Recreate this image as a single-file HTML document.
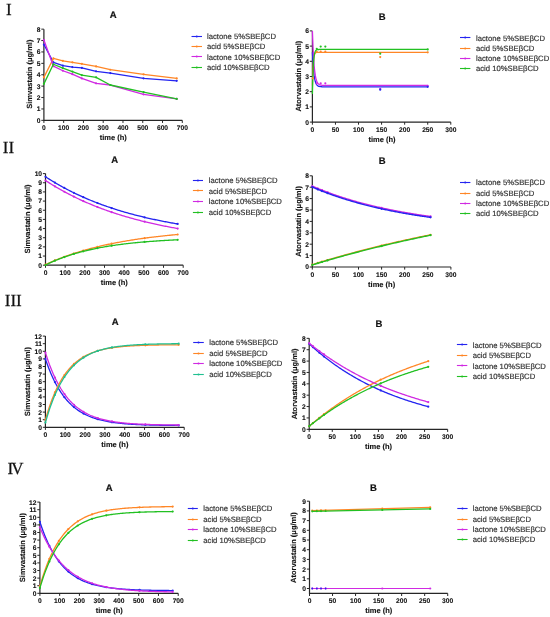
<!DOCTYPE html>
<html><head><meta charset="utf-8"><style>
html,body{margin:0;padding:0;background:#fff;}
body{width:550px;height:617px;overflow:hidden;}
svg{display:block;filter:blur(0.3px);}
text{font-family:"Liberation Sans",sans-serif;text-rendering:geometricPrecision;}
.tk{font-size:6.7px;font-weight:bold;fill:#111;stroke:#111;stroke-width:0.1px;}
.ax{font-size:7.5px;font-weight:bold;fill:#111;stroke:#111;stroke-width:0.12px;}
.ti{font-size:9.5px;font-weight:bold;fill:#111;stroke:#111;stroke-width:0.2px;}
.lg{font-size:7.7px;fill:#333;stroke:#333;stroke-width:0.18px;}
.rm{font-family:"Liberation Serif",serif;font-size:17px;fill:#111;stroke:#111;stroke-width:0.25px;}
</style></head><body>
<svg width="550" height="617" viewBox="0 0 550 617">
<path d="M43.9 29.15V120.35H182.29" fill="none" stroke="#262626" stroke-width="1.2"/>
<path d="M41.3 120.35H43.9M41.3 108.95H43.9M41.3 97.55H43.9M41.3 86.15H43.9M41.3 74.75H43.9M41.3 63.35H43.9M41.3 51.95H43.9M41.3 40.55H43.9M41.3 29.15H43.9M43.9 120.35V122.95M63.67 120.35V122.95M83.44 120.35V122.95M103.21 120.35V122.95M122.98 120.35V122.95M142.75 120.35V122.95M162.52 120.35V122.95M182.29 120.35V122.95" fill="none" stroke="#262626" stroke-width="1"/>
<text x="40.5" y="122.75" text-anchor="end" class="tk">0</text>
<text x="40.5" y="111.35" text-anchor="end" class="tk">1</text>
<text x="40.5" y="99.95" text-anchor="end" class="tk">2</text>
<text x="40.5" y="88.55" text-anchor="end" class="tk">3</text>
<text x="40.5" y="77.15" text-anchor="end" class="tk">4</text>
<text x="40.5" y="65.75" text-anchor="end" class="tk">5</text>
<text x="40.5" y="54.35" text-anchor="end" class="tk">6</text>
<text x="40.5" y="42.95" text-anchor="end" class="tk">7</text>
<text x="40.5" y="31.55" text-anchor="end" class="tk">8</text>
<text x="43.9" y="130.35" text-anchor="middle" class="tk">0</text>
<text x="63.67" y="130.35" text-anchor="middle" class="tk">100</text>
<text x="83.44" y="130.35" text-anchor="middle" class="tk">200</text>
<text x="103.21" y="130.35" text-anchor="middle" class="tk">300</text>
<text x="122.98" y="130.35" text-anchor="middle" class="tk">400</text>
<text x="142.75" y="130.35" text-anchor="middle" class="tk">500</text>
<text x="162.52" y="130.35" text-anchor="middle" class="tk">600</text>
<text x="182.29" y="130.35" text-anchor="middle" class="tk">700</text>
<text x="113.2" y="18" text-anchor="middle" class="ti">A</text>
<text x="113.3" y="140.1" text-anchor="middle" class="ax">time (h)</text>
<text transform="translate(31.8 74.2) rotate(-90)" text-anchor="middle" class="ax">Simvastatin (&#956;g/ml)</text>
<polyline points="43.9,44.54 53.39,62.32 62.88,65.63 72.37,67.11 81.86,67.91 96.09,71.33 110.33,73.04 143.54,78.28 176.75,80.79" fill="none" stroke="#2424f0" stroke-width="1.3" stroke-linejoin="round"/>
<circle cx="43.9" cy="44.54" r="1.1" fill="#2424f0"/><circle cx="53.39" cy="62.32" r="1.1" fill="#2424f0"/><circle cx="62.88" cy="65.63" r="1.1" fill="#2424f0"/><circle cx="72.37" cy="67.11" r="1.1" fill="#2424f0"/><circle cx="81.86" cy="67.91" r="1.1" fill="#2424f0"/><circle cx="96.09" cy="71.33" r="1.1" fill="#2424f0"/><circle cx="110.33" cy="73.04" r="1.1" fill="#2424f0"/><circle cx="143.54" cy="78.28" r="1.1" fill="#2424f0"/><circle cx="176.75" cy="80.79" r="1.1" fill="#2424f0"/>
<polyline points="43.9,77.37 53.39,58.45 62.88,60.84 72.37,62.32 81.86,63.81 96.09,66.43 110.33,69.73 143.54,74.29 176.75,78.4" fill="none" stroke="#ff8626" stroke-width="1.3" stroke-linejoin="round"/>
<circle cx="43.9" cy="77.37" r="1.1" fill="#ff8626"/><circle cx="53.39" cy="58.45" r="1.1" fill="#ff8626"/><circle cx="62.88" cy="60.84" r="1.1" fill="#ff8626"/><circle cx="72.37" cy="62.32" r="1.1" fill="#ff8626"/><circle cx="81.86" cy="63.81" r="1.1" fill="#ff8626"/><circle cx="96.09" cy="66.43" r="1.1" fill="#ff8626"/><circle cx="110.33" cy="69.73" r="1.1" fill="#ff8626"/><circle cx="143.54" cy="74.29" r="1.1" fill="#ff8626"/><circle cx="176.75" cy="78.4" r="1.1" fill="#ff8626"/>
<polyline points="43.9,39.98 53.39,66.2 62.88,70.76 72.37,74.18 81.86,78.4 96.09,83.3 110.33,85.01 143.54,94.36 176.75,98.92" fill="none" stroke="#d02ae2" stroke-width="1.3" stroke-linejoin="round"/>
<circle cx="43.9" cy="39.98" r="1.1" fill="#d02ae2"/><circle cx="53.39" cy="66.2" r="1.1" fill="#d02ae2"/><circle cx="62.88" cy="70.76" r="1.1" fill="#d02ae2"/><circle cx="72.37" cy="74.18" r="1.1" fill="#d02ae2"/><circle cx="81.86" cy="78.4" r="1.1" fill="#d02ae2"/><circle cx="96.09" cy="83.3" r="1.1" fill="#d02ae2"/><circle cx="110.33" cy="85.01" r="1.1" fill="#d02ae2"/><circle cx="143.54" cy="94.36" r="1.1" fill="#d02ae2"/><circle cx="176.75" cy="98.92" r="1.1" fill="#d02ae2"/>
<polyline points="43.9,83.87 53.39,64.26 62.88,68.14 72.37,71.56 81.86,75.21 96.09,77.37 110.33,85.01 143.54,92.08 176.75,98.92" fill="none" stroke="#22c022" stroke-width="1.3" stroke-linejoin="round"/>
<circle cx="43.9" cy="83.87" r="1.1" fill="#22c022"/><circle cx="53.39" cy="64.26" r="1.1" fill="#22c022"/><circle cx="62.88" cy="68.14" r="1.1" fill="#22c022"/><circle cx="72.37" cy="71.56" r="1.1" fill="#22c022"/><circle cx="81.86" cy="75.21" r="1.1" fill="#22c022"/><circle cx="96.09" cy="77.37" r="1.1" fill="#22c022"/><circle cx="110.33" cy="85.01" r="1.1" fill="#22c022"/><circle cx="143.54" cy="92.08" r="1.1" fill="#22c022"/><circle cx="176.75" cy="98.92" r="1.1" fill="#22c022"/>
<path d="M191.5 36.5H202" stroke="#2424f0" stroke-width="1.1"/>
<circle cx="196.75" cy="36.5" r="1" fill="#2424f0"/>
<text x="207" y="38.7" class="lg">lactone 5%SBE&#946;CD</text>
<path d="M191.5 46.5H202" stroke="#ff8626" stroke-width="1.1"/>
<circle cx="196.75" cy="46.5" r="1" fill="#ff8626"/>
<text x="207" y="49" class="lg">acid 5%SBE&#946;CD</text>
<path d="M191.5 56.5H202" stroke="#d02ae2" stroke-width="1.1"/>
<circle cx="196.75" cy="56.5" r="1" fill="#d02ae2"/>
<text x="207" y="59.6" class="lg">lactone 10%SBE&#946;CD</text>
<path d="M191.5 67.5H202" stroke="#22c022" stroke-width="1.1"/>
<circle cx="196.75" cy="67.5" r="1" fill="#22c022"/>
<text x="207" y="70.2" class="lg">acid 10%SBE&#946;CD</text>
<path d="M312.4 30.9V122.1H450.79" fill="none" stroke="#262626" stroke-width="1.2"/>
<path d="M309.8 122.1H312.4M309.8 106.9H312.4M309.8 91.7H312.4M309.8 76.5H312.4M309.8 61.3H312.4M309.8 46.1H312.4M309.8 30.9H312.4M312.4 122.1V124.7M335.46 122.1V124.7M358.53 122.1V124.7M381.59 122.1V124.7M404.66 122.1V124.7M427.72 122.1V124.7M450.79 122.1V124.7" fill="none" stroke="#262626" stroke-width="1"/>
<text x="309" y="124.5" text-anchor="end" class="tk">0</text>
<text x="309" y="109.3" text-anchor="end" class="tk">1</text>
<text x="309" y="94.1" text-anchor="end" class="tk">2</text>
<text x="309" y="78.9" text-anchor="end" class="tk">3</text>
<text x="309" y="63.7" text-anchor="end" class="tk">4</text>
<text x="309" y="48.5" text-anchor="end" class="tk">5</text>
<text x="309" y="33.3" text-anchor="end" class="tk">6</text>
<text x="312.4" y="132.1" text-anchor="middle" class="tk">0</text>
<text x="335.46" y="132.1" text-anchor="middle" class="tk">50</text>
<text x="358.53" y="132.1" text-anchor="middle" class="tk">100</text>
<text x="381.59" y="132.1" text-anchor="middle" class="tk">150</text>
<text x="404.66" y="132.1" text-anchor="middle" class="tk">200</text>
<text x="427.72" y="132.1" text-anchor="middle" class="tk">250</text>
<text x="450.79" y="132.1" text-anchor="middle" class="tk">300</text>
<text x="382.1" y="19.7" text-anchor="middle" class="ti">B</text>
<text x="382" y="142" text-anchor="middle" class="ax">time (h)</text>
<text transform="translate(301 76.2) rotate(-90)" text-anchor="middle" class="ax">Atorvastatin (&#956;g/ml)</text>
<polyline points="312.4,52.18 312.98,63.06 313.56,70.53 314.14,75.65 314.72,79.16 315.3,81.57 315.88,83.22 316.46,84.36 317.04,85.14 317.62,85.67 318.2,86.04 318.77,86.29 319.35,86.46 319.93,86.58 320.51,86.66 321.09,86.71 321.67,86.75 322.25,86.78 322.83,86.8 323.41,86.81 323.99,86.82 324.57,86.82 325.15,86.83 325.73,86.83 326.31,86.83 326.89,86.83 327.47,86.83 328.05,86.83 328.63,86.84 329.21,86.84 329.79,86.84 330.37,86.84 330.94,86.84 331.52,86.84 332.1,86.84 332.68,86.84 333.26,86.84 333.84,86.84 334.42,86.84 335,86.84 335.58,86.84 336.16,86.84 336.74,86.84 337.32,86.84 337.9,86.84 338.48,86.84 339.06,86.84 339.64,86.84 340.22,86.84 340.8,86.84 341.38,86.84 341.96,86.84 342.54,86.84 343.11,86.84 343.69,86.84 344.27,86.84 344.85,86.84 345.43,86.84 346.01,86.84 346.59,86.84 347.17,86.84 347.75,86.84 348.33,86.84 348.91,86.84 349.49,86.84 350.07,86.84 350.65,86.84 351.23,86.84 351.81,86.84 352.39,86.84 352.97,86.84 353.55,86.84 354.13,86.84 354.71,86.84 355.28,86.84 355.86,86.84 356.44,86.84 357.02,86.84 357.6,86.84 358.18,86.84 358.76,86.84 359.34,86.84 359.92,86.84 360.5,86.84 361.08,86.84 361.66,86.84 362.24,86.84 362.82,86.84 363.4,86.84 363.98,86.84 364.56,86.84 365.14,86.84 365.72,86.84 366.3,86.84 366.88,86.84 367.45,86.84 368.03,86.84 368.61,86.84 369.19,86.84 369.77,86.84 370.35,86.84 370.93,86.84 371.51,86.84 372.09,86.84 372.67,86.84 373.25,86.84 373.83,86.84 374.41,86.84 374.99,86.84 375.57,86.84 376.15,86.84 376.73,86.84 377.31,86.84 377.89,86.84 378.47,86.84 379.05,86.84 379.62,86.84 380.2,86.84 380.78,86.84 381.36,86.84 381.94,86.84 382.52,86.84 383.1,86.84 383.68,86.84 384.26,86.84 384.84,86.84 385.42,86.84 386,86.84 386.58,86.84 387.16,86.84 387.74,86.84 388.32,86.84 388.9,86.84 389.48,86.84 390.06,86.84 390.64,86.84 391.22,86.84 391.79,86.84 392.37,86.84 392.95,86.84 393.53,86.84 394.11,86.84 394.69,86.84 395.27,86.84 395.85,86.84 396.43,86.84 397.01,86.84 397.59,86.84 398.17,86.84 398.75,86.84 399.33,86.84 399.91,86.84 400.49,86.84 401.07,86.84 401.65,86.84 402.23,86.84 402.81,86.84 403.39,86.84 403.96,86.84 404.54,86.84 405.12,86.84 405.7,86.84 406.28,86.84 406.86,86.84 407.44,86.84 408.02,86.84 408.6,86.84 409.18,86.84 409.76,86.84 410.34,86.84 410.92,86.84 411.5,86.84 412.08,86.84 412.66,86.84 413.24,86.84 413.82,86.84 414.4,86.84 414.98,86.84 415.56,86.84 416.13,86.84 416.71,86.84 417.29,86.84 417.87,86.84 418.45,86.84 419.03,86.84 419.61,86.84 420.19,86.84 420.77,86.84 421.35,86.84 421.93,86.84 422.51,86.84 423.09,86.84 423.67,86.84 424.25,86.84 424.83,86.84 425.41,86.84 425.99,86.84 426.57,86.84 427.15,86.84 427.72,86.84" fill="none" stroke="#2424f0" stroke-width="1.3" stroke-linejoin="round"/>
<polyline points="312.4,85.62 312.79,72.49 313.17,64.54 313.56,59.72 313.94,56.81 314.33,55.04 314.71,53.97 315.1,53.33 315.49,52.93 315.87,52.7 316.26,52.55 316.64,52.47 317.03,52.41 317.41,52.38 317.8,52.36 318.19,52.35 318.57,52.34 318.96,52.34 319.34,52.34 319.73,52.33 320.11,52.33 320.5,52.33 320.89,52.33 321.27,52.33 321.66,52.33 322.04,52.33 322.43,52.33 322.81,52.33 323.2,52.33 323.59,52.33 323.97,52.33 324.36,52.33 324.74,52.33 325.13,52.33 325.51,52.33 325.9,52.33 326.29,52.33 326.67,52.33 327.06,52.33 327.44,52.33 327.83,52.33 328.21,52.33 328.6,52.33 328.99,52.33 329.37,52.33 329.76,52.33 330.14,52.33 330.53,52.33 330.91,52.33 331.3,52.33 331.69,52.33 332.07,52.33 332.46,52.33 332.84,52.33 333.23,52.33 333.61,52.33 334,52.33 334.39,52.33 334.77,52.33 335.16,52.33 335.54,52.33 335.93,52.33 336.31,52.33 336.7,52.33 337.08,52.33 337.47,52.33 337.86,52.33 338.24,52.33 338.63,52.33 339.01,52.33 339.4,52.33 339.78,52.33 340.17,52.33 340.56,52.33 340.94,52.33 341.33,52.33 341.71,52.33 342.1,52.33 342.48,52.33 342.87,52.33 343.26,52.33 343.64,52.33 344.03,52.33 344.41,52.33 344.8,52.33 345.18,52.33 345.57,52.33 345.96,52.33 346.34,52.33 346.73,52.33 347.11,52.33 347.5,52.33 347.88,52.33 348.27,52.33 348.66,52.33 349.04,52.33 349.43,52.33 349.81,52.33 350.2,52.33 350.58,52.33 350.97,52.33 351.36,52.33 351.74,52.33 352.13,52.33 352.51,52.33 352.9,52.33 353.28,52.33 353.67,52.33 354.06,52.33 354.44,52.33 354.83,52.33 355.21,52.33 355.6,52.33 355.98,52.33 356.37,52.33 356.76,52.33 357.14,52.33 357.53,52.33 357.91,52.33 358.3,52.33 358.68,52.33 359.07,52.33 359.46,52.33 359.84,52.33 360.23,52.33 360.61,52.33 361,52.33 361.38,52.33 361.77,52.33 362.16,52.33 362.54,52.33 362.93,52.33 363.31,52.33 363.7,52.33 364.08,52.33 364.47,52.33 364.86,52.33 365.24,52.33 365.63,52.33 366.01,52.33 366.4,52.33 366.78,52.33 367.17,52.33 367.56,52.33 367.94,52.33 368.33,52.33 368.71,52.33 369.1,52.33 369.48,52.33 369.87,52.33 370.26,52.33 370.64,52.33 371.03,52.33 371.41,52.33 371.8,52.33 372.18,52.33 372.57,52.33 372.96,52.33 373.34,52.33 373.73,52.33 374.11,52.33 374.5,52.33 374.88,52.33 375.27,52.33 375.66,52.33 376.04,52.33 376.43,52.33 376.81,52.33 377.2,52.33 377.58,52.33 377.97,52.33 378.36,52.33 378.74,52.33 379.13,52.33 379.51,52.33 379.9,52.33 380.28,52.33 380.67,52.33 381.06,52.33 381.44,52.33 381.83,52.33 382.21,52.33 382.6,52.33 382.98,52.33 383.37,52.33 383.75,52.33 384.14,52.33 384.53,52.33 384.91,52.33 385.3,52.33 385.68,52.33 386.07,52.33 386.45,52.33 386.84,52.33 387.23,52.33 387.61,52.33 388,52.33 388.38,52.33 388.77,52.33 389.15,52.33 389.54,52.33 389.93,52.33 390.31,52.33 390.7,52.33 391.08,52.33 391.47,52.33 391.85,52.33 392.24,52.33 392.63,52.33 393.01,52.33 393.4,52.33 393.78,52.33 394.17,52.33 394.55,52.33 394.94,52.33 395.33,52.33 395.71,52.33 396.1,52.33 396.48,52.33 396.87,52.33 397.25,52.33 397.64,52.33 398.03,52.33 398.41,52.33 398.8,52.33 399.18,52.33 399.57,52.33 399.95,52.33 400.34,52.33 400.73,52.33 401.11,52.33 401.5,52.33 401.88,52.33 402.27,52.33 402.65,52.33 403.04,52.33 403.43,52.33 403.81,52.33 404.2,52.33 404.58,52.33 404.97,52.33 405.35,52.33 405.74,52.33 406.13,52.33 406.51,52.33 406.9,52.33 407.28,52.33 407.67,52.33 408.05,52.33 408.44,52.33 408.83,52.33 409.21,52.33 409.6,52.33 409.98,52.33 410.37,52.33 410.75,52.33 411.14,52.33 411.53,52.33 411.91,52.33 412.3,52.33 412.68,52.33 413.07,52.33 413.45,52.33 413.84,52.33 414.23,52.33 414.61,52.33 415,52.33 415.38,52.33 415.77,52.33 416.15,52.33 416.54,52.33 416.93,52.33 417.31,52.33 417.7,52.33 418.08,52.33 418.47,52.33 418.85,52.33 419.24,52.33 419.63,52.33 420.01,52.33 420.4,52.33 420.78,52.33 421.17,52.33 421.55,52.33 421.94,52.33 422.33,52.33 422.71,52.33 423.1,52.33 423.48,52.33 423.87,52.33 424.25,52.33 424.64,52.33 425.03,52.33 425.41,52.33 425.8,52.33 426.18,52.33 426.57,52.33 426.95,52.33 427.34,52.33 427.72,52.33" fill="none" stroke="#ff8626" stroke-width="1.3" stroke-linejoin="round"/>
<polyline points="312.4,30.9 312.98,46.6 313.56,57.78 314.14,65.74 314.72,71.42 315.3,75.46 315.88,78.34 316.46,80.39 317.04,81.85 317.62,82.89 318.2,83.63 318.77,84.16 319.35,84.54 319.93,84.8 320.51,85 321.09,85.13 321.67,85.23 322.25,85.3 322.83,85.35 323.41,85.38 323.99,85.41 324.57,85.42 325.15,85.44 325.73,85.45 326.31,85.45 326.89,85.46 327.47,85.46 328.05,85.46 328.63,85.46 329.21,85.47 329.79,85.47 330.37,85.47 330.94,85.47 331.52,85.47 332.1,85.47 332.68,85.47 333.26,85.47 333.84,85.47 334.42,85.47 335,85.47 335.58,85.47 336.16,85.47 336.74,85.47 337.32,85.47 337.9,85.47 338.48,85.47 339.06,85.47 339.64,85.47 340.22,85.47 340.8,85.47 341.38,85.47 341.96,85.47 342.54,85.47 343.11,85.47 343.69,85.47 344.27,85.47 344.85,85.47 345.43,85.47 346.01,85.47 346.59,85.47 347.17,85.47 347.75,85.47 348.33,85.47 348.91,85.47 349.49,85.47 350.07,85.47 350.65,85.47 351.23,85.47 351.81,85.47 352.39,85.47 352.97,85.47 353.55,85.47 354.13,85.47 354.71,85.47 355.28,85.47 355.86,85.47 356.44,85.47 357.02,85.47 357.6,85.47 358.18,85.47 358.76,85.47 359.34,85.47 359.92,85.47 360.5,85.47 361.08,85.47 361.66,85.47 362.24,85.47 362.82,85.47 363.4,85.47 363.98,85.47 364.56,85.47 365.14,85.47 365.72,85.47 366.3,85.47 366.88,85.47 367.45,85.47 368.03,85.47 368.61,85.47 369.19,85.47 369.77,85.47 370.35,85.47 370.93,85.47 371.51,85.47 372.09,85.47 372.67,85.47 373.25,85.47 373.83,85.47 374.41,85.47 374.99,85.47 375.57,85.47 376.15,85.47 376.73,85.47 377.31,85.47 377.89,85.47 378.47,85.47 379.05,85.47 379.62,85.47 380.2,85.47 380.78,85.47 381.36,85.47 381.94,85.47 382.52,85.47 383.1,85.47 383.68,85.47 384.26,85.47 384.84,85.47 385.42,85.47 386,85.47 386.58,85.47 387.16,85.47 387.74,85.47 388.32,85.47 388.9,85.47 389.48,85.47 390.06,85.47 390.64,85.47 391.22,85.47 391.79,85.47 392.37,85.47 392.95,85.47 393.53,85.47 394.11,85.47 394.69,85.47 395.27,85.47 395.85,85.47 396.43,85.47 397.01,85.47 397.59,85.47 398.17,85.47 398.75,85.47 399.33,85.47 399.91,85.47 400.49,85.47 401.07,85.47 401.65,85.47 402.23,85.47 402.81,85.47 403.39,85.47 403.96,85.47 404.54,85.47 405.12,85.47 405.7,85.47 406.28,85.47 406.86,85.47 407.44,85.47 408.02,85.47 408.6,85.47 409.18,85.47 409.76,85.47 410.34,85.47 410.92,85.47 411.5,85.47 412.08,85.47 412.66,85.47 413.24,85.47 413.82,85.47 414.4,85.47 414.98,85.47 415.56,85.47 416.13,85.47 416.71,85.47 417.29,85.47 417.87,85.47 418.45,85.47 419.03,85.47 419.61,85.47 420.19,85.47 420.77,85.47 421.35,85.47 421.93,85.47 422.51,85.47 423.09,85.47 423.67,85.47 424.25,85.47 424.83,85.47 425.41,85.47 425.99,85.47 426.57,85.47 427.15,85.47 427.72,85.47" fill="none" stroke="#d02ae2" stroke-width="1.3" stroke-linejoin="round"/>
<polyline points="312.4,93.98 312.79,78.76 313.17,68.75 313.56,62.15 313.94,57.81 314.33,54.95 314.71,53.07 315.1,51.83 315.49,51.02 315.87,50.48 316.26,50.12 316.64,49.89 317.03,49.74 317.41,49.64 317.8,49.57 318.19,49.53 318.57,49.5 318.96,49.48 319.34,49.47 319.73,49.46 320.11,49.45 320.5,49.45 320.89,49.45 321.27,49.45 321.66,49.45 322.04,49.45 322.43,49.44 322.81,49.44 323.2,49.44 323.59,49.44 323.97,49.44 324.36,49.44 324.74,49.44 325.13,49.44 325.51,49.44 325.9,49.44 326.29,49.44 326.67,49.44 327.06,49.44 327.44,49.44 327.83,49.44 328.21,49.44 328.6,49.44 328.99,49.44 329.37,49.44 329.76,49.44 330.14,49.44 330.53,49.44 330.91,49.44 331.3,49.44 331.69,49.44 332.07,49.44 332.46,49.44 332.84,49.44 333.23,49.44 333.61,49.44 334,49.44 334.39,49.44 334.77,49.44 335.16,49.44 335.54,49.44 335.93,49.44 336.31,49.44 336.7,49.44 337.08,49.44 337.47,49.44 337.86,49.44 338.24,49.44 338.63,49.44 339.01,49.44 339.4,49.44 339.78,49.44 340.17,49.44 340.56,49.44 340.94,49.44 341.33,49.44 341.71,49.44 342.1,49.44 342.48,49.44 342.87,49.44 343.26,49.44 343.64,49.44 344.03,49.44 344.41,49.44 344.8,49.44 345.18,49.44 345.57,49.44 345.96,49.44 346.34,49.44 346.73,49.44 347.11,49.44 347.5,49.44 347.88,49.44 348.27,49.44 348.66,49.44 349.04,49.44 349.43,49.44 349.81,49.44 350.2,49.44 350.58,49.44 350.97,49.44 351.36,49.44 351.74,49.44 352.13,49.44 352.51,49.44 352.9,49.44 353.28,49.44 353.67,49.44 354.06,49.44 354.44,49.44 354.83,49.44 355.21,49.44 355.6,49.44 355.98,49.44 356.37,49.44 356.76,49.44 357.14,49.44 357.53,49.44 357.91,49.44 358.3,49.44 358.68,49.44 359.07,49.44 359.46,49.44 359.84,49.44 360.23,49.44 360.61,49.44 361,49.44 361.38,49.44 361.77,49.44 362.16,49.44 362.54,49.44 362.93,49.44 363.31,49.44 363.7,49.44 364.08,49.44 364.47,49.44 364.86,49.44 365.24,49.44 365.63,49.44 366.01,49.44 366.4,49.44 366.78,49.44 367.17,49.44 367.56,49.44 367.94,49.44 368.33,49.44 368.71,49.44 369.1,49.44 369.48,49.44 369.87,49.44 370.26,49.44 370.64,49.44 371.03,49.44 371.41,49.44 371.8,49.44 372.18,49.44 372.57,49.44 372.96,49.44 373.34,49.44 373.73,49.44 374.11,49.44 374.5,49.44 374.88,49.44 375.27,49.44 375.66,49.44 376.04,49.44 376.43,49.44 376.81,49.44 377.2,49.44 377.58,49.44 377.97,49.44 378.36,49.44 378.74,49.44 379.13,49.44 379.51,49.44 379.9,49.44 380.28,49.44 380.67,49.44 381.06,49.44 381.44,49.44 381.83,49.44 382.21,49.44 382.6,49.44 382.98,49.44 383.37,49.44 383.75,49.44 384.14,49.44 384.53,49.44 384.91,49.44 385.3,49.44 385.68,49.44 386.07,49.44 386.45,49.44 386.84,49.44 387.23,49.44 387.61,49.44 388,49.44 388.38,49.44 388.77,49.44 389.15,49.44 389.54,49.44 389.93,49.44 390.31,49.44 390.7,49.44 391.08,49.44 391.47,49.44 391.85,49.44 392.24,49.44 392.63,49.44 393.01,49.44 393.4,49.44 393.78,49.44 394.17,49.44 394.55,49.44 394.94,49.44 395.33,49.44 395.71,49.44 396.1,49.44 396.48,49.44 396.87,49.44 397.25,49.44 397.64,49.44 398.03,49.44 398.41,49.44 398.8,49.44 399.18,49.44 399.57,49.44 399.95,49.44 400.34,49.44 400.73,49.44 401.11,49.44 401.5,49.44 401.88,49.44 402.27,49.44 402.65,49.44 403.04,49.44 403.43,49.44 403.81,49.44 404.2,49.44 404.58,49.44 404.97,49.44 405.35,49.44 405.74,49.44 406.13,49.44 406.51,49.44 406.9,49.44 407.28,49.44 407.67,49.44 408.05,49.44 408.44,49.44 408.83,49.44 409.21,49.44 409.6,49.44 409.98,49.44 410.37,49.44 410.75,49.44 411.14,49.44 411.53,49.44 411.91,49.44 412.3,49.44 412.68,49.44 413.07,49.44 413.45,49.44 413.84,49.44 414.23,49.44 414.61,49.44 415,49.44 415.38,49.44 415.77,49.44 416.15,49.44 416.54,49.44 416.93,49.44 417.31,49.44 417.7,49.44 418.08,49.44 418.47,49.44 418.85,49.44 419.24,49.44 419.63,49.44 420.01,49.44 420.4,49.44 420.78,49.44 421.17,49.44 421.55,49.44 421.94,49.44 422.33,49.44 422.71,49.44 423.1,49.44 423.48,49.44 423.87,49.44 424.25,49.44 424.64,49.44 425.03,49.44 425.41,49.44 425.8,49.44 426.18,49.44 426.57,49.44 426.95,49.44 427.34,49.44 427.72,49.44" fill="none" stroke="#22c022" stroke-width="1.3" stroke-linejoin="round"/>
<circle cx="312.86" cy="78.32" r="1.1" fill="#ff8626"/><circle cx="316.78" cy="51.88" r="1.1" fill="#ff8626"/><circle cx="320.7" cy="51.72" r="1.1" fill="#ff8626"/><circle cx="325.32" cy="51.72" r="1.1" fill="#ff8626"/><circle cx="380.21" cy="57.04" r="1.1" fill="#ff8626"/><circle cx="427.72" cy="52.33" r="1.1" fill="#ff8626"/>
<circle cx="316.78" cy="48.84" r="1.1" fill="#22c022"/><circle cx="320.7" cy="46.56" r="1.1" fill="#22c022"/><circle cx="325.32" cy="46.56" r="1.1" fill="#22c022"/><circle cx="380.21" cy="53.7" r="1.1" fill="#22c022"/><circle cx="427.72" cy="49.44" r="1.1" fill="#22c022"/>
<circle cx="316.78" cy="83.34" r="1.1" fill="#d02ae2"/><circle cx="320.7" cy="83.34" r="1.1" fill="#d02ae2"/><circle cx="325.32" cy="83.34" r="1.1" fill="#d02ae2"/><circle cx="380.21" cy="88.96" r="1.1" fill="#d02ae2"/><circle cx="427.72" cy="85.77" r="1.1" fill="#d02ae2"/>
<circle cx="380.21" cy="89.72" r="1.1" fill="#2424f0"/><circle cx="427.72" cy="86.84" r="1.1" fill="#2424f0"/>
<path d="M460 37.5H470.4" stroke="#2424f0" stroke-width="1.1"/>
<circle cx="465.2" cy="37.5" r="1" fill="#2424f0"/>
<text x="476" y="40.5" class="lg">lactone 5%SBE&#946;CD</text>
<path d="M460 48.5H470.4" stroke="#ff8626" stroke-width="1.1"/>
<circle cx="465.2" cy="48.5" r="1" fill="#ff8626"/>
<text x="476" y="50.9" class="lg">acid 5%SBE&#946;CD</text>
<path d="M460 58.5H470.4" stroke="#d02ae2" stroke-width="1.1"/>
<circle cx="465.2" cy="58.5" r="1" fill="#d02ae2"/>
<text x="476" y="61.2" class="lg">lactone 10%SBE&#946;CD</text>
<path d="M460 68.5H470.4" stroke="#22c022" stroke-width="1.1"/>
<circle cx="465.2" cy="68.5" r="1" fill="#22c022"/>
<text x="476" y="71.4" class="lg">acid 10%SBE&#946;CD</text>
<path d="M45.5 173.6V265.2H183.19" fill="none" stroke="#262626" stroke-width="1.2"/>
<path d="M42.9 265.2H45.5M42.9 256.04H45.5M42.9 246.88H45.5M42.9 237.72H45.5M42.9 228.56H45.5M42.9 219.4H45.5M42.9 210.24H45.5M42.9 201.08H45.5M42.9 191.92H45.5M42.9 182.76H45.5M42.9 173.6H45.5M45.5 265.2V267.8M65.17 265.2V267.8M84.84 265.2V267.8M104.51 265.2V267.8M124.18 265.2V267.8M143.85 265.2V267.8M163.52 265.2V267.8M183.19 265.2V267.8" fill="none" stroke="#262626" stroke-width="1"/>
<text x="42.1" y="267.6" text-anchor="end" class="tk">0</text>
<text x="42.1" y="258.44" text-anchor="end" class="tk">1</text>
<text x="42.1" y="249.28" text-anchor="end" class="tk">2</text>
<text x="42.1" y="240.12" text-anchor="end" class="tk">3</text>
<text x="42.1" y="230.96" text-anchor="end" class="tk">4</text>
<text x="42.1" y="221.8" text-anchor="end" class="tk">5</text>
<text x="42.1" y="212.64" text-anchor="end" class="tk">6</text>
<text x="42.1" y="203.48" text-anchor="end" class="tk">7</text>
<text x="42.1" y="194.32" text-anchor="end" class="tk">8</text>
<text x="42.1" y="185.16" text-anchor="end" class="tk">9</text>
<text x="42.1" y="176" text-anchor="end" class="tk">10</text>
<text x="45.5" y="275.2" text-anchor="middle" class="tk">0</text>
<text x="65.17" y="275.2" text-anchor="middle" class="tk">100</text>
<text x="84.84" y="275.2" text-anchor="middle" class="tk">200</text>
<text x="104.51" y="275.2" text-anchor="middle" class="tk">300</text>
<text x="124.18" y="275.2" text-anchor="middle" class="tk">400</text>
<text x="143.85" y="275.2" text-anchor="middle" class="tk">500</text>
<text x="163.52" y="275.2" text-anchor="middle" class="tk">600</text>
<text x="183.19" y="275.2" text-anchor="middle" class="tk">700</text>
<text x="114.8" y="162.7" text-anchor="middle" class="ti">A</text>
<text x="114.3" y="285.3" text-anchor="middle" class="ax">time (h)</text>
<text transform="translate(30.2 219) rotate(-90)" text-anchor="middle" class="ax">Simvastatin (&#956;g/ml)</text>
<polyline points="45.5,176.77 46.61,177.49 47.72,178.2 48.83,178.9 49.94,179.6 51.05,180.28 52.16,180.96 53.28,181.64 54.39,182.3 55.5,182.96 56.61,183.61 57.72,184.25 58.83,184.88 59.94,185.51 61.05,186.13 62.16,186.74 63.27,187.35 64.38,187.95 65.49,188.54 66.6,189.13 67.72,189.71 68.83,190.28 69.94,190.85 71.05,191.41 72.16,191.96 73.27,192.51 74.38,193.05 75.49,193.59 76.6,194.12 77.71,194.64 78.82,195.16 79.93,195.67 81.04,196.18 82.16,196.68 83.27,197.17 84.38,197.66 85.49,198.14 86.6,198.62 87.71,199.09 88.82,199.56 89.93,200.02 91.04,200.48 92.15,200.93 93.26,201.37 94.37,201.82 95.48,202.25 96.6,202.68 97.71,203.11 98.82,203.53 99.93,203.95 101.04,204.36 102.15,204.77 103.26,205.17 104.37,205.57 105.48,205.96 106.59,206.35 107.7,206.74 108.81,207.12 109.93,207.49 111.04,207.86 112.15,208.23 113.26,208.6 114.37,208.96 115.48,209.31 116.59,209.66 117.7,210.01 118.81,210.35 119.92,210.69 121.03,211.03 122.14,211.36 123.25,211.69 124.37,212.01 125.48,212.33 126.59,212.65 127.7,212.96 128.81,213.27 129.92,213.58 131.03,213.88 132.14,214.18 133.25,214.48 134.36,214.77 135.47,215.06 136.58,215.35 137.69,215.63 138.81,215.91 139.92,216.19 141.03,216.46 142.14,216.73 143.25,217 144.36,217.26 145.47,217.53 146.58,217.78 147.69,218.04 148.8,218.29 149.91,218.54 151.02,218.79 152.13,219.03 153.25,219.28 154.36,219.51 155.47,219.75 156.58,219.98 157.69,220.21 158.8,220.44 159.91,220.67 161.02,220.89 162.13,221.11 163.24,221.33 164.35,221.54 165.46,221.76 166.57,221.97 167.69,222.18 168.8,222.38 169.91,222.59 171.02,222.79 172.13,222.99 173.24,223.18 174.35,223.38 175.46,223.57 176.57,223.76 177.68,223.95" fill="none" stroke="#2424f0" stroke-width="1.3" stroke-linejoin="round"/>
<circle cx="45.5" cy="176.77" r="1.1" fill="#2424f0"/><circle cx="54.94" cy="182.63" r="1.1" fill="#2424f0"/><circle cx="64.38" cy="187.95" r="1.1" fill="#2424f0"/><circle cx="73.82" cy="192.78" r="1.1" fill="#2424f0"/><circle cx="83.27" cy="197.17" r="1.1" fill="#2424f0"/><circle cx="97.43" cy="203" r="1.1" fill="#2424f0"/><circle cx="111.59" cy="208.05" r="1.1" fill="#2424f0"/><circle cx="144.64" cy="217.33" r="1.1" fill="#2424f0"/><circle cx="177.68" cy="223.95" r="1.1" fill="#2424f0"/>
<polyline points="45.5,264.54 46.61,264.03 47.72,263.52 48.83,263.03 49.94,262.54 51.05,262.05 52.16,261.58 53.28,261.11 54.39,260.65 55.5,260.19 56.61,259.74 57.72,259.3 58.83,258.86 59.94,258.43 61.05,258 62.16,257.58 63.27,257.16 64.38,256.75 65.49,256.35 66.6,255.95 67.72,255.56 68.83,255.17 69.94,254.79 71.05,254.42 72.16,254.04 73.27,253.68 74.38,253.32 75.49,252.96 76.6,252.61 77.71,252.26 78.82,251.92 79.93,251.58 81.04,251.25 82.16,250.92 83.27,250.6 84.38,250.28 85.49,249.96 86.6,249.65 87.71,249.35 88.82,249.05 89.93,248.75 91.04,248.45 92.15,248.16 93.26,247.88 94.37,247.6 95.48,247.32 96.6,247.04 97.71,246.77 98.82,246.51 99.93,246.24 101.04,245.98 102.15,245.73 103.26,245.47 104.37,245.23 105.48,244.98 106.59,244.74 107.7,244.5 108.81,244.26 109.93,244.03 111.04,243.8 112.15,243.57 113.26,243.35 114.37,243.13 115.48,242.91 116.59,242.7 117.7,242.49 118.81,242.28 119.92,242.07 121.03,241.87 122.14,241.67 123.25,241.48 124.37,241.28 125.48,241.09 126.59,240.9 127.7,240.71 128.81,240.53 129.92,240.35 131.03,240.17 132.14,239.99 133.25,239.82 134.36,239.65 135.47,239.48 136.58,239.31 137.69,239.15 138.81,238.98 139.92,238.82 141.03,238.66 142.14,238.51 143.25,238.35 144.36,238.2 145.47,238.05 146.58,237.91 147.69,237.76 148.8,237.62 149.91,237.47 151.02,237.33 152.13,237.2 153.25,237.06 154.36,236.93 155.47,236.79 156.58,236.66 157.69,236.54 158.8,236.41 159.91,236.28 161.02,236.16 162.13,236.04 163.24,235.92 164.35,235.8 165.46,235.68 166.57,235.57 167.69,235.45 168.8,235.34 169.91,235.23 171.02,235.12 172.13,235.02 173.24,234.91 174.35,234.8 175.46,234.7 176.57,234.6 177.68,234.5" fill="none" stroke="#ff8626" stroke-width="1.3" stroke-linejoin="round"/>
<circle cx="45.5" cy="264.54" r="1.1" fill="#ff8626"/><circle cx="54.94" cy="260.42" r="1.1" fill="#ff8626"/><circle cx="64.38" cy="256.75" r="1.1" fill="#ff8626"/><circle cx="73.82" cy="253.5" r="1.1" fill="#ff8626"/><circle cx="83.27" cy="250.6" r="1.1" fill="#ff8626"/><circle cx="97.43" cy="246.84" r="1.1" fill="#ff8626"/><circle cx="111.59" cy="243.69" r="1.1" fill="#ff8626"/><circle cx="144.64" cy="238.17" r="1.1" fill="#ff8626"/><circle cx="177.68" cy="234.5" r="1.1" fill="#ff8626"/>
<polyline points="45.5,180.48 46.61,181.21 47.72,181.92 48.83,182.63 49.94,183.33 51.05,184.02 52.16,184.7 53.28,185.38 54.39,186.04 55.5,186.71 56.61,187.36 57.72,188.01 58.83,188.65 59.94,189.28 61.05,189.9 62.16,190.52 63.27,191.13 64.38,191.74 65.49,192.34 66.6,192.93 67.72,193.51 68.83,194.09 69.94,194.67 71.05,195.23 72.16,195.79 73.27,196.35 74.38,196.89 75.49,197.43 76.6,197.97 77.71,198.5 78.82,199.02 79.93,199.54 81.04,200.05 82.16,200.56 83.27,201.06 84.38,201.56 85.49,202.05 86.6,202.53 87.71,203.01 88.82,203.49 89.93,203.96 91.04,204.42 92.15,204.88 93.26,205.33 94.37,205.78 95.48,206.23 96.6,206.67 97.71,207.1 98.82,207.53 99.93,207.95 101.04,208.37 102.15,208.79 103.26,209.2 104.37,209.61 105.48,210.01 106.59,210.4 107.7,210.8 108.81,211.19 109.93,211.57 111.04,211.95 112.15,212.33 113.26,212.7 114.37,213.07 115.48,213.43 116.59,213.79 117.7,214.15 118.81,214.5 119.92,214.85 121.03,215.19 122.14,215.53 123.25,215.87 124.37,216.2 125.48,216.53 126.59,216.85 127.7,217.18 128.81,217.49 129.92,217.81 131.03,218.12 132.14,218.43 133.25,218.73 134.36,219.03 135.47,219.33 136.58,219.63 137.69,219.92 138.81,220.21 139.92,220.49 141.03,220.77 142.14,221.05 143.25,221.33 144.36,221.6 145.47,221.87 146.58,222.14 147.69,222.4 148.8,222.66 149.91,222.92 151.02,223.18 152.13,223.43 153.25,223.68 154.36,223.93 155.47,224.17 156.58,224.41 157.69,224.65 158.8,224.89 159.91,225.12 161.02,225.35 162.13,225.58 163.24,225.81 164.35,226.03 165.46,226.25 166.57,226.47 167.69,226.68 168.8,226.9 169.91,227.11 171.02,227.32 172.13,227.53 173.24,227.73 174.35,227.93 175.46,228.13 176.57,228.33 177.68,228.53" fill="none" stroke="#d02ae2" stroke-width="1.3" stroke-linejoin="round"/>
<circle cx="45.5" cy="180.48" r="1.1" fill="#d02ae2"/><circle cx="54.94" cy="186.38" r="1.1" fill="#d02ae2"/><circle cx="64.38" cy="191.74" r="1.1" fill="#d02ae2"/><circle cx="73.82" cy="196.62" r="1.1" fill="#d02ae2"/><circle cx="83.27" cy="201.06" r="1.1" fill="#d02ae2"/><circle cx="97.43" cy="206.99" r="1.1" fill="#d02ae2"/><circle cx="111.59" cy="212.14" r="1.1" fill="#d02ae2"/><circle cx="144.64" cy="221.67" r="1.1" fill="#d02ae2"/><circle cx="177.68" cy="228.53" r="1.1" fill="#d02ae2"/>
<polyline points="45.5,265.05 46.61,264.5 47.72,263.96 48.83,263.43 49.94,262.91 51.05,262.41 52.16,261.91 53.28,261.42 54.39,260.95 55.5,260.48 56.61,260.02 57.72,259.57 58.83,259.13 59.94,258.69 61.05,258.27 62.16,257.85 63.27,257.45 64.38,257.05 65.49,256.66 66.6,256.27 67.72,255.9 68.83,255.53 69.94,255.17 71.05,254.81 72.16,254.46 73.27,254.12 74.38,253.79 75.49,253.46 76.6,253.14 77.71,252.83 78.82,252.52 79.93,252.22 81.04,251.92 82.16,251.63 83.27,251.35 84.38,251.07 85.49,250.79 86.6,250.52 87.71,250.26 88.82,250 89.93,249.75 91.04,249.5 92.15,249.26 93.26,249.02 94.37,248.79 95.48,248.56 96.6,248.34 97.71,248.12 98.82,247.9 99.93,247.69 101.04,247.48 102.15,247.28 103.26,247.08 104.37,246.89 105.48,246.69 106.59,246.51 107.7,246.32 108.81,246.14 109.93,245.97 111.04,245.79 112.15,245.62 113.26,245.46 114.37,245.29 115.48,245.14 116.59,244.98 117.7,244.82 118.81,244.67 119.92,244.53 121.03,244.38 122.14,244.24 123.25,244.1 124.37,243.96 125.48,243.83 126.59,243.7 127.7,243.57 128.81,243.45 129.92,243.32 131.03,243.2 132.14,243.08 133.25,242.97 134.36,242.85 135.47,242.74 136.58,242.63 137.69,242.52 138.81,242.42 139.92,242.32 141.03,242.21 142.14,242.12 143.25,242.02 144.36,241.92 145.47,241.83 146.58,241.74 147.69,241.65 148.8,241.56 149.91,241.47 151.02,241.39 152.13,241.31 153.25,241.23 154.36,241.15 155.47,241.07 156.58,240.99 157.69,240.92 158.8,240.84 159.91,240.77 161.02,240.7 162.13,240.63 163.24,240.56 164.35,240.5 165.46,240.43 166.57,240.37 167.69,240.3 168.8,240.24 169.91,240.18 171.02,240.12 172.13,240.07 173.24,240.01 174.35,239.95 175.46,239.9 176.57,239.85 177.68,239.79" fill="none" stroke="#22c022" stroke-width="1.3" stroke-linejoin="round"/>
<circle cx="45.5" cy="265.05" r="1.1" fill="#22c022"/><circle cx="54.94" cy="260.71" r="1.1" fill="#22c022"/><circle cx="64.38" cy="257.05" r="1.1" fill="#22c022"/><circle cx="73.82" cy="253.96" r="1.1" fill="#22c022"/><circle cx="83.27" cy="251.35" r="1.1" fill="#22c022"/><circle cx="97.43" cy="248.17" r="1.1" fill="#22c022"/><circle cx="111.59" cy="245.71" r="1.1" fill="#22c022"/><circle cx="144.64" cy="241.9" r="1.1" fill="#22c022"/><circle cx="177.68" cy="239.79" r="1.1" fill="#22c022"/>
<path d="M192.9 180.5H203" stroke="#2424f0" stroke-width="1.1"/>
<circle cx="197.95" cy="180.5" r="1" fill="#2424f0"/>
<text x="208.7" y="183.3" class="lg">lactone 5%SBE&#946;CD</text>
<path d="M192.9 190.5H203" stroke="#ff8626" stroke-width="1.1"/>
<circle cx="197.95" cy="190.5" r="1" fill="#ff8626"/>
<text x="208.7" y="193.5" class="lg">acid 5%SBE&#946;CD</text>
<path d="M192.9 201.5H203" stroke="#d02ae2" stroke-width="1.1"/>
<circle cx="197.95" cy="201.5" r="1" fill="#d02ae2"/>
<text x="208.7" y="204.3" class="lg">lactone 10%SBE&#946;CD</text>
<path d="M192.9 212.5H203" stroke="#22c022" stroke-width="1.1"/>
<circle cx="197.95" cy="212.5" r="1" fill="#22c022"/>
<text x="208.7" y="214.9" class="lg">acid 10%SBE&#946;CD</text>
<path d="M312.3 175.8V267H450.9" fill="none" stroke="#262626" stroke-width="1.2"/>
<path d="M309.7 267H312.3M309.7 255.6H312.3M309.7 244.2H312.3M309.7 232.8H312.3M309.7 221.4H312.3M309.7 210H312.3M309.7 198.6H312.3M309.7 187.2H312.3M309.7 175.8H312.3M312.3 267V269.6M335.4 267V269.6M358.5 267V269.6M381.6 267V269.6M404.7 267V269.6M427.8 267V269.6M450.9 267V269.6" fill="none" stroke="#262626" stroke-width="1"/>
<text x="308.9" y="269.4" text-anchor="end" class="tk">0</text>
<text x="308.9" y="258" text-anchor="end" class="tk">1</text>
<text x="308.9" y="246.6" text-anchor="end" class="tk">2</text>
<text x="308.9" y="235.2" text-anchor="end" class="tk">3</text>
<text x="308.9" y="223.8" text-anchor="end" class="tk">4</text>
<text x="308.9" y="212.4" text-anchor="end" class="tk">5</text>
<text x="308.9" y="201" text-anchor="end" class="tk">6</text>
<text x="308.9" y="189.6" text-anchor="end" class="tk">7</text>
<text x="308.9" y="178.2" text-anchor="end" class="tk">8</text>
<text x="312.3" y="277" text-anchor="middle" class="tk">0</text>
<text x="335.4" y="277" text-anchor="middle" class="tk">50</text>
<text x="358.5" y="277" text-anchor="middle" class="tk">100</text>
<text x="381.6" y="277" text-anchor="middle" class="tk">150</text>
<text x="404.7" y="277" text-anchor="middle" class="tk">200</text>
<text x="427.8" y="277" text-anchor="middle" class="tk">250</text>
<text x="450.9" y="277" text-anchor="middle" class="tk">300</text>
<text x="382.1" y="164.2" text-anchor="middle" class="ti">B</text>
<text x="381.6" y="287" text-anchor="middle" class="ax">time (h)</text>
<text transform="translate(301.1 221.3) rotate(-90)" text-anchor="middle" class="ax">Atorvastatin (&#956;g/ml)</text>
<polyline points="312.3,186.16 313.29,186.58 314.29,187 315.28,187.42 316.28,187.84 317.27,188.25 318.26,188.65 319.26,189.06 320.25,189.46 321.24,189.85 322.24,190.24 323.23,190.63 324.23,191.01 325.22,191.39 326.21,191.77 327.21,192.14 328.2,192.51 329.2,192.88 330.19,193.24 331.18,193.6 332.18,193.95 333.17,194.3 334.17,194.65 335.16,195 336.15,195.34 337.15,195.68 338.14,196.01 339.13,196.34 340.13,196.67 341.12,197 342.12,197.32 343.11,197.64 344.1,197.95 345.1,198.27 346.09,198.58 347.09,198.89 348.08,199.19 349.07,199.49 350.07,199.79 351.06,200.08 352.06,200.38 353.05,200.67 354.04,200.95 355.04,201.24 356.03,201.52 357.02,201.8 358.02,202.07 359.01,202.35 360.01,202.62 361,202.89 361.99,203.15 362.99,203.42 363.98,203.68 364.98,203.93 365.97,204.19 366.96,204.44 367.96,204.69 368.95,204.94 369.95,205.19 370.94,205.43 371.93,205.67 372.93,205.91 373.92,206.15 374.91,206.38 375.91,206.61 376.9,206.84 377.9,207.07 378.89,207.3 379.88,207.52 380.88,207.74 381.87,207.96 382.87,208.18 383.86,208.39 384.85,208.6 385.85,208.81 386.84,209.02 387.84,209.23 388.83,209.43 389.82,209.64 390.82,209.84 391.81,210.04 392.8,210.23 393.8,210.43 394.79,210.62 395.79,210.81 396.78,211 397.77,211.19 398.77,211.38 399.76,211.56 400.76,211.74 401.75,211.92 402.74,212.1 403.74,212.28 404.73,212.45 405.72,212.63 406.72,212.8 407.71,212.97 408.71,213.14 409.7,213.3 410.69,213.47 411.69,213.63 412.68,213.8 413.68,213.96 414.67,214.12 415.66,214.27 416.66,214.43 417.65,214.58 418.65,214.74 419.64,214.89 420.63,215.04 421.63,215.19 422.62,215.33 423.61,215.48 424.61,215.62 425.6,215.77 426.6,215.91 427.59,216.05 428.58,216.19 429.58,216.33 430.57,216.46" fill="none" stroke="#d02ae2" stroke-width="1.4" stroke-linejoin="round"/>
<circle cx="312.3" cy="186.16" r="1.1" fill="#d02ae2"/><circle cx="317.84" cy="188.48" r="1.1" fill="#d02ae2"/><circle cx="322" cy="190.15" r="1.1" fill="#d02ae2"/><circle cx="327.55" cy="192.27" r="1.1" fill="#d02ae2"/><circle cx="381.6" cy="207.9" r="1.1" fill="#d02ae2"/><circle cx="430.57" cy="216.46" r="1.1" fill="#d02ae2"/>
<polyline points="312.3,187.07 313.29,187.49 314.29,187.92 315.28,188.34 316.28,188.75 317.27,189.16 318.26,189.57 319.26,189.97 320.25,190.37 321.24,190.76 322.24,191.15 323.23,191.54 324.23,191.92 325.22,192.3 326.21,192.68 327.21,193.05 328.2,193.42 329.2,193.79 330.19,194.15 331.18,194.51 332.18,194.86 333.17,195.22 334.17,195.56 335.16,195.91 336.15,196.25 337.15,196.59 338.14,196.92 339.13,197.26 340.13,197.58 341.12,197.91 342.12,198.23 343.11,198.55 344.1,198.87 345.1,199.18 346.09,199.49 347.09,199.8 348.08,200.1 349.07,200.4 350.07,200.7 351.06,201 352.06,201.29 353.05,201.58 354.04,201.87 355.04,202.15 356.03,202.43 357.02,202.71 358.02,202.99 359.01,203.26 360.01,203.53 361,203.8 361.99,204.06 362.99,204.33 363.98,204.59 364.98,204.85 365.97,205.1 366.96,205.35 367.96,205.61 368.95,205.85 369.95,206.1 370.94,206.34 371.93,206.58 372.93,206.82 373.92,207.06 374.91,207.29 375.91,207.53 376.9,207.76 377.9,207.98 378.89,208.21 379.88,208.43 380.88,208.65 381.87,208.87 382.87,209.09 383.86,209.3 384.85,209.52 385.85,209.73 386.84,209.94 387.84,210.14 388.83,210.35 389.82,210.55 390.82,210.75 391.81,210.95 392.8,211.15 393.8,211.34 394.79,211.53 395.79,211.72 396.78,211.91 397.77,212.1 398.77,212.29 399.76,212.47 400.76,212.65 401.75,212.83 402.74,213.01 403.74,213.19 404.73,213.36 405.72,213.54 406.72,213.71 407.71,213.88 408.71,214.05 409.7,214.22 410.69,214.38 411.69,214.55 412.68,214.71 413.68,214.87 414.67,215.03 415.66,215.19 416.66,215.34 417.65,215.5 418.65,215.65 419.64,215.8 420.63,215.95 421.63,216.1 422.62,216.25 423.61,216.39 424.61,216.54 425.6,216.68 426.6,216.82 427.59,216.96 428.58,217.1 429.58,217.24 430.57,217.37" fill="none" stroke="#2424f0" stroke-width="1.4" stroke-linejoin="round"/>
<circle cx="312.3" cy="187.07" r="1.1" fill="#2424f0"/><circle cx="317.84" cy="189.4" r="1.1" fill="#2424f0"/><circle cx="322" cy="191.06" r="1.1" fill="#2424f0"/><circle cx="327.55" cy="193.18" r="1.1" fill="#2424f0"/><circle cx="381.6" cy="208.81" r="1.1" fill="#2424f0"/><circle cx="430.57" cy="217.37" r="1.1" fill="#2424f0"/>
<polyline points="312.3,264.68 313.29,264.37 314.29,264.06 315.28,263.75 316.28,263.44 317.27,263.13 318.26,262.83 319.26,262.52 320.25,262.22 321.24,261.92 322.24,261.62 323.23,261.32 324.23,261.02 325.22,260.72 326.21,260.42 327.21,260.13 328.2,259.83 329.2,259.54 330.19,259.25 331.18,258.96 332.18,258.67 333.17,258.38 334.17,258.09 335.16,257.8 336.15,257.52 337.15,257.23 338.14,256.95 339.13,256.67 340.13,256.39 341.12,256.11 342.12,255.83 343.11,255.55 344.1,255.27 345.1,255 346.09,254.72 347.09,254.45 348.08,254.17 349.07,253.9 350.07,253.63 351.06,253.36 352.06,253.09 353.05,252.82 354.04,252.56 355.04,252.29 356.03,252.03 357.02,251.76 358.02,251.5 359.01,251.24 360.01,250.98 361,250.72 361.99,250.46 362.99,250.2 363.98,249.95 364.98,249.69 365.97,249.43 366.96,249.18 367.96,248.93 368.95,248.68 369.95,248.42 370.94,248.17 371.93,247.93 372.93,247.68 373.92,247.43 374.91,247.18 375.91,246.94 376.9,246.69 377.9,246.45 378.89,246.21 379.88,245.97 380.88,245.72 381.87,245.48 382.87,245.25 383.86,245.01 384.85,244.77 385.85,244.53 386.84,244.3 387.84,244.06 388.83,243.83 389.82,243.6 390.82,243.37 391.81,243.13 392.8,242.9 393.8,242.68 394.79,242.45 395.79,242.22 396.78,241.99 397.77,241.77 398.77,241.54 399.76,241.32 400.76,241.1 401.75,240.87 402.74,240.65 403.74,240.43 404.73,240.21 405.72,239.99 406.72,239.77 407.71,239.56 408.71,239.34 409.7,239.12 410.69,238.91 411.69,238.69 412.68,238.48 413.68,238.27 414.67,238.06 415.66,237.85 416.66,237.64 417.65,237.43 418.65,237.22 419.64,237.01 420.63,236.8 421.63,236.6 422.62,236.39 423.61,236.19 424.61,235.98 425.6,235.78 426.6,235.58 427.59,235.38 428.58,235.18 429.58,234.98 430.57,234.78" fill="none" stroke="#ff8626" stroke-width="1.4" stroke-linejoin="round"/>
<circle cx="312.3" cy="264.68" r="1.1" fill="#ff8626"/><circle cx="317.84" cy="262.96" r="1.1" fill="#ff8626"/><circle cx="322" cy="261.69" r="1.1" fill="#ff8626"/><circle cx="327.55" cy="260.03" r="1.1" fill="#ff8626"/><circle cx="381.6" cy="245.55" r="1.1" fill="#ff8626"/><circle cx="430.57" cy="234.78" r="1.1" fill="#ff8626"/>
<polyline points="312.3,264.94 313.29,264.64 314.29,264.33 315.28,264.03 316.28,263.73 317.27,263.43 318.26,263.13 319.26,262.83 320.25,262.53 321.24,262.23 322.24,261.94 323.23,261.64 324.23,261.35 325.22,261.06 326.21,260.77 327.21,260.48 328.2,260.19 329.2,259.9 330.19,259.61 331.18,259.33 332.18,259.04 333.17,258.76 334.17,258.47 335.16,258.19 336.15,257.91 337.15,257.63 338.14,257.35 339.13,257.07 340.13,256.79 341.12,256.52 342.12,256.24 343.11,255.97 344.1,255.69 345.1,255.42 346.09,255.15 347.09,254.88 348.08,254.61 349.07,254.34 350.07,254.07 351.06,253.8 352.06,253.54 353.05,253.27 354.04,253.01 355.04,252.75 356.03,252.48 357.02,252.22 358.02,251.96 359.01,251.7 360.01,251.44 361,251.19 361.99,250.93 362.99,250.67 363.98,250.42 364.98,250.16 365.97,249.91 366.96,249.66 367.96,249.41 368.95,249.16 369.95,248.91 370.94,248.66 371.93,248.41 372.93,248.16 373.92,247.91 374.91,247.67 375.91,247.42 376.9,247.18 377.9,246.94 378.89,246.7 379.88,246.46 380.88,246.21 381.87,245.98 382.87,245.74 383.86,245.5 384.85,245.26 385.85,245.03 386.84,244.79 387.84,244.56 388.83,244.32 389.82,244.09 390.82,243.86 391.81,243.63 392.8,243.4 393.8,243.17 394.79,242.94 395.79,242.71 396.78,242.48 397.77,242.26 398.77,242.03 399.76,241.81 400.76,241.58 401.75,241.36 402.74,241.14 403.74,240.91 404.73,240.69 405.72,240.47 406.72,240.25 407.71,240.03 408.71,239.82 409.7,239.6 410.69,239.38 411.69,239.17 412.68,238.95 413.68,238.74 414.67,238.53 415.66,238.31 416.66,238.1 417.65,237.89 418.65,237.68 419.64,237.47 420.63,237.26 421.63,237.05 422.62,236.85 423.61,236.64 424.61,236.43 425.6,236.23 426.6,236.02 427.59,235.82 428.58,235.62 429.58,235.41 430.57,235.21" fill="none" stroke="#22c022" stroke-width="1.4" stroke-linejoin="round"/>
<circle cx="312.3" cy="264.94" r="1.1" fill="#22c022"/><circle cx="317.84" cy="263.25" r="1.1" fill="#22c022"/><circle cx="322" cy="262.01" r="1.1" fill="#22c022"/><circle cx="327.55" cy="260.38" r="1.1" fill="#22c022"/><circle cx="381.6" cy="246.04" r="1.1" fill="#22c022"/><circle cx="430.57" cy="235.21" r="1.1" fill="#22c022"/>
<path d="M460 182.5H470.4" stroke="#2424f0" stroke-width="1.1"/>
<circle cx="465.2" cy="182.5" r="1" fill="#2424f0"/>
<text x="476" y="185.4" class="lg">lactone 5%SBE&#946;CD</text>
<path d="M460 193.5H470.4" stroke="#ff8626" stroke-width="1.1"/>
<circle cx="465.2" cy="193.5" r="1" fill="#ff8626"/>
<text x="476" y="195.8" class="lg">acid 5%SBE&#946;CD</text>
<path d="M460 203.5H470.4" stroke="#d02ae2" stroke-width="1.1"/>
<circle cx="465.2" cy="203.5" r="1" fill="#d02ae2"/>
<text x="476" y="206.3" class="lg">lactone 10%SBE&#946;CD</text>
<path d="M460 213.5H470.4" stroke="#22c022" stroke-width="1.1"/>
<circle cx="465.2" cy="213.5" r="1" fill="#22c022"/>
<text x="476" y="216.3" class="lg">acid 10%SBE&#946;CD</text>
<path d="M45.4 336.1V427.3H184.21" fill="none" stroke="#262626" stroke-width="1.2"/>
<path d="M42.8 427.3H45.4M42.8 419.7H45.4M42.8 412.1H45.4M42.8 404.5H45.4M42.8 396.9H45.4M42.8 389.3H45.4M42.8 381.7H45.4M42.8 374.1H45.4M42.8 366.5H45.4M42.8 358.9H45.4M42.8 351.3H45.4M42.8 343.7H45.4M42.8 336.1H45.4M45.4 427.3V429.9M65.23 427.3V429.9M85.06 427.3V429.9M104.89 427.3V429.9M124.72 427.3V429.9M144.55 427.3V429.9M164.38 427.3V429.9M184.21 427.3V429.9" fill="none" stroke="#262626" stroke-width="1"/>
<text x="42" y="429.7" text-anchor="end" class="tk">0</text>
<text x="42" y="422.1" text-anchor="end" class="tk">1</text>
<text x="42" y="414.5" text-anchor="end" class="tk">2</text>
<text x="42" y="406.9" text-anchor="end" class="tk">3</text>
<text x="42" y="399.3" text-anchor="end" class="tk">4</text>
<text x="42" y="391.7" text-anchor="end" class="tk">5</text>
<text x="42" y="384.1" text-anchor="end" class="tk">6</text>
<text x="42" y="376.5" text-anchor="end" class="tk">7</text>
<text x="42" y="368.9" text-anchor="end" class="tk">8</text>
<text x="42" y="361.3" text-anchor="end" class="tk">9</text>
<text x="42" y="353.7" text-anchor="end" class="tk">10</text>
<text x="42" y="346.1" text-anchor="end" class="tk">11</text>
<text x="42" y="338.5" text-anchor="end" class="tk">12</text>
<text x="45.4" y="437.3" text-anchor="middle" class="tk">0</text>
<text x="65.23" y="437.3" text-anchor="middle" class="tk">100</text>
<text x="85.06" y="437.3" text-anchor="middle" class="tk">200</text>
<text x="104.89" y="437.3" text-anchor="middle" class="tk">300</text>
<text x="124.72" y="437.3" text-anchor="middle" class="tk">400</text>
<text x="144.55" y="437.3" text-anchor="middle" class="tk">500</text>
<text x="164.38" y="437.3" text-anchor="middle" class="tk">600</text>
<text x="184.21" y="437.3" text-anchor="middle" class="tk">700</text>
<text x="115.2" y="324.9" text-anchor="middle" class="ti">A</text>
<text x="114.9" y="447" text-anchor="middle" class="ax">time (h)</text>
<text transform="translate(30.2 381.7) rotate(-90)" text-anchor="middle" class="ax">Simvastatin (&#956;g/ml)</text>
<polyline points="45.4,358.91 46.52,362.18 47.64,365.29 48.76,368.25 49.88,371.07 51,373.74 52.12,376.29 53.24,378.7 54.36,381.01 55.48,383.19 56.6,385.27 57.72,387.25 58.84,389.13 59.96,390.92 61.08,392.63 62.2,394.24 63.32,395.78 64.44,397.25 65.56,398.64 66.68,399.96 67.8,401.22 68.92,402.42 70.04,403.55 71.16,404.64 72.28,405.67 73.4,406.64 74.52,407.57 75.63,408.46 76.75,409.3 77.87,410.1 78.99,410.86 80.11,411.59 81.23,412.28 82.35,412.93 83.47,413.55 84.59,414.14 85.71,414.71 86.83,415.24 87.95,415.75 89.07,416.24 90.19,416.7 91.31,417.13 92.43,417.55 93.55,417.95 94.67,418.32 95.79,418.68 96.91,419.02 98.03,419.35 99.15,419.65 100.27,419.95 101.39,420.23 102.51,420.49 103.63,420.74 104.75,420.98 105.87,421.21 106.99,421.43 108.11,421.63 109.23,421.83 110.35,422.01 111.47,422.19 112.59,422.36 113.71,422.52 114.83,422.67 115.95,422.82 117.07,422.95 118.19,423.09 119.31,423.21 120.43,423.33 121.55,423.44 122.67,423.55 123.79,423.65 124.91,423.75 126.03,423.84 127.15,423.93 128.27,424.01 129.39,424.09 130.51,424.16 131.63,424.24 132.75,424.3 133.87,424.37 134.98,424.43 136.1,424.49 137.22,424.55 138.34,424.6 139.46,424.65 140.58,424.7 141.7,424.74 142.82,424.79 143.94,424.83 145.06,424.87 146.18,424.9 147.3,424.94 148.42,424.97 149.54,425 150.66,425.04 151.78,425.06 152.9,425.09 154.02,425.12 155.14,425.14 156.26,425.17 157.38,425.19 158.5,425.21 159.62,425.23 160.74,425.25 161.86,425.27 162.98,425.29 164.1,425.3 165.22,425.32 166.34,425.33 167.46,425.35 168.58,425.36 169.7,425.37 170.82,425.39 171.94,425.4 173.06,425.41 174.18,425.42 175.3,425.43 176.42,425.44 177.54,425.45 178.66,425.46" fill="none" stroke="#2424f0" stroke-width="1.3" stroke-linejoin="round"/>
<circle cx="45.4" cy="358.91" r="1.1" fill="#2424f0"/><circle cx="54.92" cy="382.11" r="1.1" fill="#2424f0"/><circle cx="64.44" cy="397.25" r="1.1" fill="#2424f0"/><circle cx="73.96" cy="407.12" r="1.1" fill="#2424f0"/><circle cx="83.47" cy="413.55" r="1.1" fill="#2424f0"/><circle cx="97.75" cy="419.27" r="1.1" fill="#2424f0"/><circle cx="112.03" cy="422.28" r="1.1" fill="#2424f0"/><circle cx="145.34" cy="424.88" r="1.1" fill="#2424f0"/><circle cx="178.66" cy="425.46" r="1.1" fill="#2424f0"/>
<polyline points="45.4,352.55 46.52,356.07 47.64,359.43 48.76,362.62 49.88,365.65 51,368.54 52.12,371.29 53.24,373.9 54.36,376.39 55.48,378.76 56.6,381.01 57.72,383.15 58.84,385.19 59.96,387.13 61.08,388.98 62.2,390.73 63.32,392.41 64.44,394 65.56,395.51 66.68,396.95 67.8,398.32 68.92,399.62 70.04,400.87 71.16,402.05 72.28,403.17 73.4,404.24 74.52,405.25 75.63,406.22 76.75,407.14 77.87,408.02 78.99,408.85 80.11,409.65 81.23,410.4 82.35,411.12 83.47,411.8 84.59,412.45 85.71,413.07 86.83,413.66 87.95,414.22 89.07,414.75 90.19,415.26 91.31,415.74 92.43,416.2 93.55,416.64 94.67,417.05 95.79,417.45 96.91,417.83 98.03,418.18 99.15,418.52 100.27,418.85 101.39,419.16 102.51,419.45 103.63,419.73 104.75,420 105.87,420.25 106.99,420.49 108.11,420.72 109.23,420.94 110.35,421.14 111.47,421.34 112.59,421.53 113.71,421.71 114.83,421.88 115.95,422.04 117.07,422.19 118.19,422.34 119.31,422.48 120.43,422.61 121.55,422.74 122.67,422.86 123.79,422.97 124.91,423.08 126.03,423.18 127.15,423.28 128.27,423.38 129.39,423.46 130.51,423.55 131.63,423.63 132.75,423.71 133.87,423.78 134.98,423.85 136.1,423.92 137.22,423.98 138.34,424.04 139.46,424.09 140.58,424.15 141.7,424.2 142.82,424.25 143.94,424.3 145.06,424.34 146.18,424.38 147.3,424.42 148.42,424.46 149.54,424.5 150.66,424.53 151.78,424.57 152.9,424.6 154.02,424.63 155.14,424.65 156.26,424.68 157.38,424.71 158.5,424.73 159.62,424.76 160.74,424.78 161.86,424.8 162.98,424.82 164.1,424.84 165.22,424.86 166.34,424.87 167.46,424.89 168.58,424.91 169.7,424.92 170.82,424.93 171.94,424.95 173.06,424.96 174.18,424.97 175.3,424.98 176.42,425 177.54,425.01 178.66,425.02" fill="none" stroke="#d02ae2" stroke-width="1.3" stroke-linejoin="round"/>
<circle cx="45.4" cy="352.55" r="1.1" fill="#d02ae2"/><circle cx="54.92" cy="377.59" r="1.1" fill="#d02ae2"/><circle cx="64.44" cy="394" r="1.1" fill="#d02ae2"/><circle cx="73.96" cy="404.75" r="1.1" fill="#d02ae2"/><circle cx="83.47" cy="411.8" r="1.1" fill="#d02ae2"/><circle cx="97.75" cy="418.1" r="1.1" fill="#d02ae2"/><circle cx="112.03" cy="421.44" r="1.1" fill="#d02ae2"/><circle cx="145.34" cy="424.35" r="1.1" fill="#d02ae2"/><circle cx="178.66" cy="425.02" r="1.1" fill="#d02ae2"/>
<polyline points="45.4,419.82 46.52,415.92 47.64,412.22 48.76,408.71 49.88,405.39 51,402.24 52.12,399.25 53.24,396.41 54.36,393.73 55.48,391.18 56.6,388.76 57.72,386.47 58.84,384.3 59.96,382.24 61.08,380.29 62.2,378.44 63.32,376.69 64.44,375.02 65.56,373.45 66.68,371.95 67.8,370.54 68.92,369.19 70.04,367.92 71.16,366.71 72.28,365.56 73.4,364.48 74.52,363.45 75.63,362.47 76.75,361.55 77.87,360.67 78.99,359.84 80.11,359.05 81.23,358.3 82.35,357.59 83.47,356.92 84.59,356.28 85.71,355.68 86.83,355.11 87.95,354.56 89.07,354.05 90.19,353.56 91.31,353.1 92.43,352.66 93.55,352.24 94.67,351.85 95.79,351.47 96.91,351.12 98.03,350.78 99.15,350.47 100.27,350.16 101.39,349.88 102.51,349.61 103.63,349.35 104.75,349.1 105.87,348.87 106.99,348.65 108.11,348.44 109.23,348.25 110.35,348.06 111.47,347.88 112.59,347.71 113.71,347.56 114.83,347.4 115.95,347.26 117.07,347.13 118.19,347 119.31,346.87 120.43,346.76 121.55,346.65 122.67,346.54 123.79,346.45 124.91,346.35 126.03,346.26 127.15,346.18 128.27,346.1 129.39,346.02 130.51,345.95 131.63,345.88 132.75,345.82 133.87,345.76 134.98,345.7 136.1,345.65 137.22,345.59 138.34,345.55 139.46,345.5 140.58,345.45 141.7,345.41 142.82,345.37 143.94,345.33 145.06,345.3 146.18,345.26 147.3,345.23 148.42,345.2 149.54,345.17 150.66,345.15 151.78,345.12 152.9,345.09 154.02,345.07 155.14,345.05 156.26,345.03 157.38,345.01 158.5,344.99 159.62,344.97 160.74,344.95 161.86,344.94 162.98,344.92 164.1,344.91 165.22,344.89 166.34,344.88 167.46,344.87 168.58,344.86 169.7,344.85 170.82,344.84 171.94,344.83 173.06,344.82 174.18,344.81 175.3,344.8 176.42,344.79 177.54,344.78 178.66,344.78" fill="none" stroke="#ff8626" stroke-width="1.3" stroke-linejoin="round"/>
<circle cx="45.4" cy="419.82" r="1.1" fill="#ff8626"/><circle cx="54.92" cy="392.44" r="1.1" fill="#ff8626"/><circle cx="64.44" cy="375.02" r="1.1" fill="#ff8626"/><circle cx="73.96" cy="363.96" r="1.1" fill="#ff8626"/><circle cx="83.47" cy="356.92" r="1.1" fill="#ff8626"/><circle cx="97.75" cy="350.87" r="1.1" fill="#ff8626"/><circle cx="112.03" cy="347.8" r="1.1" fill="#ff8626"/><circle cx="145.34" cy="345.29" r="1.1" fill="#ff8626"/><circle cx="178.66" cy="344.78" r="1.1" fill="#ff8626"/>
<polyline points="45.4,422.6 46.52,418.7 47.64,415 48.76,411.47 49.88,408.12 51,404.94 52.12,401.91 53.24,399.03 54.36,396.29 55.48,393.69 56.6,391.22 57.72,388.86 58.84,386.63 59.96,384.5 61.08,382.48 62.2,380.56 63.32,378.73 64.44,377 65.56,375.34 66.68,373.78 67.8,372.28 68.92,370.86 70.04,369.52 71.16,368.23 72.28,367.01 73.4,365.85 74.52,364.75 75.63,363.71 76.75,362.71 77.87,361.76 78.99,360.86 80.11,360.01 81.23,359.19 82.35,358.42 83.47,357.68 84.59,356.99 85.71,356.32 86.83,355.69 87.95,355.09 89.07,354.52 90.19,353.97 91.31,353.46 92.43,352.97 93.55,352.5 94.67,352.06 95.79,351.64 96.91,351.23 98.03,350.85 99.15,350.49 100.27,350.15 101.39,349.82 102.51,349.51 103.63,349.21 104.75,348.93 105.87,348.66 106.99,348.41 108.11,348.17 109.23,347.94 110.35,347.72 111.47,347.51 112.59,347.31 113.71,347.12 114.83,346.95 115.95,346.78 117.07,346.61 118.19,346.46 119.31,346.32 120.43,346.18 121.55,346.04 122.67,345.92 123.79,345.8 124.91,345.69 126.03,345.58 127.15,345.48 128.27,345.38 129.39,345.29 130.51,345.2 131.63,345.12 132.75,345.04 133.87,344.96 134.98,344.89 136.1,344.82 137.22,344.76 138.34,344.69 139.46,344.63 140.58,344.58 141.7,344.53 142.82,344.48 143.94,344.43 145.06,344.38 146.18,344.34 147.3,344.3 148.42,344.26 149.54,344.22 150.66,344.19 151.78,344.15 152.9,344.12 154.02,344.09 155.14,344.06 156.26,344.03 157.38,344.01 158.5,343.98 159.62,343.96 160.74,343.94 161.86,343.91 162.98,343.89 164.1,343.87 165.22,343.86 166.34,343.84 167.46,343.82 168.58,343.81 169.7,343.79 170.82,343.78 171.94,343.76 173.06,343.75 174.18,343.74 175.3,343.73 176.42,343.72 177.54,343.71 178.66,343.7" fill="none" stroke="#20c090" stroke-width="1.3" stroke-linejoin="round"/>
<circle cx="45.4" cy="422.6" r="1.1" fill="#20c090"/><circle cx="54.92" cy="394.97" r="1.1" fill="#20c090"/><circle cx="64.44" cy="377" r="1.1" fill="#20c090"/><circle cx="73.96" cy="365.3" r="1.1" fill="#20c090"/><circle cx="83.47" cy="357.68" r="1.1" fill="#20c090"/><circle cx="97.75" cy="350.95" r="1.1" fill="#20c090"/><circle cx="112.03" cy="347.41" r="1.1" fill="#20c090"/><circle cx="145.34" cy="344.37" r="1.1" fill="#20c090"/><circle cx="178.66" cy="343.7" r="1.1" fill="#20c090"/>
<path d="M193.2 342.5H203.8" stroke="#2424f0" stroke-width="1.1"/>
<circle cx="198.5" cy="342.5" r="1" fill="#2424f0"/>
<text x="209.2" y="345.1" class="lg">lactone 5%SBE&#946;CD</text>
<path d="M193.2 353.5H203.8" stroke="#ff8626" stroke-width="1.1"/>
<circle cx="198.5" cy="353.5" r="1" fill="#ff8626"/>
<text x="209.2" y="355.7" class="lg">acid 5%SBE&#946;CD</text>
<path d="M193.2 363.5H203.8" stroke="#d02ae2" stroke-width="1.1"/>
<circle cx="198.5" cy="363.5" r="1" fill="#d02ae2"/>
<text x="209.2" y="366.3" class="lg">lactone 10%SBE&#946;CD</text>
<path d="M193.2 374.5H203.8" stroke="#20c090" stroke-width="1.1"/>
<circle cx="198.5" cy="374.5" r="1" fill="#20c090"/>
<text x="209.2" y="377" class="lg">acid 10%SBE&#946;CD</text>
<path d="M309.2 338.34V429.3H447.65" fill="none" stroke="#262626" stroke-width="1.2"/>
<path d="M306.6 429.3H309.2M306.6 417.93H309.2M306.6 406.56H309.2M306.6 395.19H309.2M306.6 383.82H309.2M306.6 372.45H309.2M306.6 361.08H309.2M306.6 349.71H309.2M306.6 338.34H309.2M309.2 429.3V431.9M332.27 429.3V431.9M355.35 429.3V431.9M378.43 429.3V431.9M401.5 429.3V431.9M424.57 429.3V431.9M447.65 429.3V431.9" fill="none" stroke="#262626" stroke-width="1"/>
<text x="305.8" y="431.7" text-anchor="end" class="tk">0</text>
<text x="305.8" y="420.33" text-anchor="end" class="tk">1</text>
<text x="305.8" y="408.96" text-anchor="end" class="tk">2</text>
<text x="305.8" y="397.59" text-anchor="end" class="tk">3</text>
<text x="305.8" y="386.22" text-anchor="end" class="tk">4</text>
<text x="305.8" y="374.85" text-anchor="end" class="tk">5</text>
<text x="305.8" y="363.48" text-anchor="end" class="tk">6</text>
<text x="305.8" y="352.11" text-anchor="end" class="tk">7</text>
<text x="305.8" y="340.74" text-anchor="end" class="tk">8</text>
<text x="309.2" y="439.3" text-anchor="middle" class="tk">0</text>
<text x="332.27" y="439.3" text-anchor="middle" class="tk">50</text>
<text x="355.35" y="439.3" text-anchor="middle" class="tk">100</text>
<text x="378.43" y="439.3" text-anchor="middle" class="tk">150</text>
<text x="401.5" y="439.3" text-anchor="middle" class="tk">200</text>
<text x="424.57" y="439.3" text-anchor="middle" class="tk">250</text>
<text x="447.65" y="439.3" text-anchor="middle" class="tk">300</text>
<text x="378.9" y="326.6" text-anchor="middle" class="ti">B</text>
<text x="378.5" y="449" text-anchor="middle" class="ax">time (h)</text>
<text transform="translate(297.2 383.9) rotate(-90)" text-anchor="middle" class="ax">Atorvastatin (&#956;g/ml)</text>
<polyline points="309.2,343.79 310.2,344.71 311.2,345.63 312.2,346.54 313.2,347.43 314.2,348.32 315.2,349.2 316.2,350.07 317.2,350.92 318.21,351.77 319.21,352.61 320.21,353.45 321.21,354.27 322.21,355.08 323.21,355.89 324.21,356.69 325.21,357.48 326.21,358.26 327.21,359.03 328.21,359.79 329.21,360.55 330.21,361.3 331.21,362.04 332.21,362.77 333.21,363.5 334.21,364.21 335.21,364.92 336.22,365.63 337.22,366.32 338.22,367.01 339.22,367.69 340.22,368.36 341.22,369.03 342.22,369.69 343.22,370.34 344.22,370.98 345.22,371.62 346.22,372.25 347.22,372.88 348.22,373.49 349.22,374.11 350.22,374.71 351.22,375.31 352.22,375.9 353.22,376.49 354.23,377.07 355.23,377.64 356.23,378.21 357.23,378.77 358.23,379.33 359.23,379.88 360.23,380.42 361.23,380.96 362.23,381.49 363.23,382.02 364.23,382.54 365.23,383.06 366.23,383.57 367.23,384.07 368.23,384.57 369.23,385.07 370.23,385.56 371.23,386.04 372.24,386.52 373.24,386.99 374.24,387.46 375.24,387.93 376.24,388.39 377.24,388.84 378.24,389.29 379.24,389.73 380.24,390.17 381.24,390.61 382.24,391.04 383.24,391.47 384.24,391.89 385.24,392.31 386.24,392.72 387.24,393.13 388.24,393.53 389.25,393.93 390.25,394.33 391.25,394.72 392.25,395.11 393.25,395.49 394.25,395.87 395.25,396.24 396.25,396.61 397.25,396.98 398.25,397.35 399.25,397.71 400.25,398.06 401.25,398.41 402.25,398.76 403.25,399.11 404.25,399.45 405.25,399.78 406.25,400.12 407.26,400.45 408.26,400.78 409.26,401.1 410.26,401.42 411.26,401.74 412.26,402.05 413.26,402.36 414.26,402.67 415.26,402.97 416.26,403.27 417.26,403.57 418.26,403.86 419.26,404.15 420.26,404.44 421.26,404.72 422.26,405.01 423.26,405.28 424.26,405.56 425.27,405.83 426.27,406.1 427.27,406.37 428.27,406.63" fill="none" stroke="#2424f0" stroke-width="1.3" stroke-linejoin="round"/>
<circle cx="309.2" cy="343.79" r="1.1" fill="#2424f0"/><circle cx="312.89" cy="347.16" r="1.1" fill="#2424f0"/><circle cx="319.35" cy="352.74" r="1.1" fill="#2424f0"/><circle cx="323.97" cy="356.5" r="1.1" fill="#2424f0"/><circle cx="380.73" cy="390.39" r="1.1" fill="#2424f0"/><circle cx="428.27" cy="406.63" r="1.1" fill="#2424f0"/>
<polyline points="309.2,426.26 310.2,425.4 311.2,424.54 312.2,423.69 313.2,422.85 314.2,422.01 315.2,421.19 316.2,420.37 317.2,419.55 318.21,418.74 319.21,417.94 320.21,417.15 321.21,416.36 322.21,415.58 323.21,414.81 324.21,414.04 325.21,413.28 326.21,412.53 327.21,411.78 328.21,411.04 329.21,410.3 330.21,409.57 331.21,408.85 332.21,408.13 333.21,407.42 334.21,406.71 335.21,406.01 336.22,405.32 337.22,404.63 338.22,403.95 339.22,403.28 340.22,402.61 341.22,401.94 342.22,401.28 343.22,400.63 344.22,399.98 345.22,399.34 346.22,398.7 347.22,398.07 348.22,397.44 349.22,396.82 350.22,396.21 351.22,395.6 352.22,394.99 353.22,394.39 354.23,393.79 355.23,393.2 356.23,392.62 357.23,392.04 358.23,391.46 359.23,390.89 360.23,390.33 361.23,389.76 362.23,389.21 363.23,388.66 364.23,388.11 365.23,387.57 366.23,387.03 367.23,386.5 368.23,385.97 369.23,385.44 370.23,384.92 371.23,384.41 372.24,383.9 373.24,383.39 374.24,382.89 375.24,382.39 376.24,381.89 377.24,381.4 378.24,380.92 379.24,380.44 380.24,379.96 381.24,379.48 382.24,379.01 383.24,378.55 384.24,378.09 385.24,377.63 386.24,377.17 387.24,376.72 388.24,376.28 389.25,375.83 390.25,375.39 391.25,374.96 392.25,374.53 393.25,374.1 394.25,373.68 395.25,373.25 396.25,372.84 397.25,372.42 398.25,372.01 399.25,371.61 400.25,371.2 401.25,370.8 402.25,370.41 403.25,370.01 404.25,369.62 405.25,369.24 406.25,368.85 407.26,368.47 408.26,368.09 409.26,367.72 410.26,367.35 411.26,366.98 412.26,366.62 413.26,366.26 414.26,365.9 415.26,365.54 416.26,365.19 417.26,364.84 418.26,364.49 419.26,364.15 420.26,363.81 421.26,363.47 422.26,363.14 423.26,362.8 424.26,362.48 425.27,362.15 426.27,361.83 427.27,361.5 428.27,361.19" fill="none" stroke="#ff8626" stroke-width="1.3" stroke-linejoin="round"/>
<circle cx="309.2" cy="426.26" r="1.1" fill="#ff8626"/><circle cx="312.89" cy="423.11" r="1.1" fill="#ff8626"/><circle cx="319.35" cy="417.83" r="1.1" fill="#ff8626"/><circle cx="323.97" cy="414.22" r="1.1" fill="#ff8626"/><circle cx="380.73" cy="379.72" r="1.1" fill="#ff8626"/><circle cx="428.27" cy="361.19" r="1.1" fill="#ff8626"/>
<polyline points="309.2,343.22 310.2,344.03 311.2,344.83 312.2,345.63 313.2,346.41 314.2,347.19 315.2,347.97 316.2,348.73 317.2,349.49 318.21,350.24 319.21,350.99 320.21,351.72 321.21,352.45 322.21,353.18 323.21,353.9 324.21,354.61 325.21,355.31 326.21,356.01 327.21,356.7 328.21,357.39 329.21,358.07 330.21,358.74 331.21,359.41 332.21,360.07 333.21,360.72 334.21,361.37 335.21,362.01 336.22,362.65 337.22,363.28 338.22,363.91 339.22,364.53 340.22,365.14 341.22,365.75 342.22,366.35 343.22,366.95 344.22,367.54 345.22,368.13 346.22,368.71 347.22,369.29 348.22,369.86 349.22,370.42 350.22,370.98 351.22,371.54 352.22,372.09 353.22,372.63 354.23,373.17 355.23,373.71 356.23,374.24 357.23,374.77 358.23,375.29 359.23,375.8 360.23,376.31 361.23,376.82 362.23,377.32 363.23,377.82 364.23,378.31 365.23,378.8 366.23,379.28 367.23,379.76 368.23,380.24 369.23,380.71 370.23,381.18 371.23,381.64 372.24,382.1 373.24,382.55 374.24,383 375.24,383.45 376.24,383.89 377.24,384.32 378.24,384.76 379.24,385.19 380.24,385.61 381.24,386.04 382.24,386.45 383.24,386.87 384.24,387.28 385.24,387.68 386.24,388.09 387.24,388.49 388.24,388.88 389.25,389.27 390.25,389.66 391.25,390.05 392.25,390.43 393.25,390.81 394.25,391.18 395.25,391.55 396.25,391.92 397.25,392.28 398.25,392.64 399.25,393 400.25,393.36 401.25,393.71 402.25,394.05 403.25,394.4 404.25,394.74 405.25,395.08 406.25,395.41 407.26,395.75 408.26,396.08 409.26,396.4 410.26,396.73 411.26,397.05 412.26,397.36 413.26,397.68 414.26,397.99 415.26,398.3 416.26,398.6 417.26,398.91 418.26,399.21 419.26,399.51 420.26,399.8 421.26,400.09 422.26,400.38 423.26,400.67 424.26,400.95 425.27,401.24 426.27,401.51 427.27,401.79 428.27,402.07" fill="none" stroke="#d02ae2" stroke-width="1.3" stroke-linejoin="round"/>
<circle cx="309.2" cy="343.22" r="1.1" fill="#d02ae2"/><circle cx="312.89" cy="346.17" r="1.1" fill="#d02ae2"/><circle cx="319.35" cy="351.09" r="1.1" fill="#d02ae2"/><circle cx="323.97" cy="354.44" r="1.1" fill="#d02ae2"/><circle cx="380.73" cy="385.82" r="1.1" fill="#d02ae2"/><circle cx="428.27" cy="402.07" r="1.1" fill="#d02ae2"/>
<polyline points="309.2,426.22 310.2,425.41 311.2,424.61 312.2,423.82 313.2,423.03 314.2,422.25 315.2,421.48 316.2,420.71 317.2,419.96 318.21,419.2 319.21,418.46 320.21,417.72 321.21,416.99 322.21,416.26 323.21,415.54 324.21,414.83 325.21,414.13 326.21,413.43 327.21,412.73 328.21,412.04 329.21,411.36 330.21,410.69 331.21,410.02 332.21,409.35 333.21,408.7 334.21,408.04 335.21,407.4 336.22,406.76 337.22,406.12 338.22,405.5 339.22,404.87 340.22,404.25 341.22,403.64 342.22,403.04 343.22,402.43 344.22,401.84 345.22,401.25 346.22,400.66 347.22,400.08 348.22,399.51 349.22,398.94 350.22,398.37 351.22,397.81 352.22,397.26 353.22,396.71 354.23,396.16 355.23,395.62 356.23,395.09 357.23,394.56 358.23,394.03 359.23,393.51 360.23,392.99 361.23,392.48 362.23,391.98 363.23,391.47 364.23,390.97 365.23,390.48 366.23,389.99 367.23,389.51 368.23,389.02 369.23,388.55 370.23,388.08 371.23,387.61 372.24,387.14 373.24,386.68 374.24,386.23 375.24,385.78 376.24,385.33 377.24,384.89 378.24,384.45 379.24,384.01 380.24,383.58 381.24,383.15 382.24,382.73 383.24,382.31 384.24,381.89 385.24,381.48 386.24,381.07 387.24,380.66 388.24,380.26 389.25,379.86 390.25,379.46 391.25,379.07 392.25,378.69 393.25,378.3 394.25,377.92 395.25,377.54 396.25,377.17 397.25,376.8 398.25,376.43 399.25,376.06 400.25,375.7 401.25,375.35 402.25,374.99 403.25,374.64 404.25,374.29 405.25,373.95 406.25,373.6 407.26,373.26 408.26,372.93 409.26,372.59 410.26,372.26 411.26,371.94 412.26,371.61 413.26,371.29 414.26,370.97 415.26,370.66 416.26,370.34 417.26,370.03 418.26,369.73 419.26,369.42 420.26,369.12 421.26,368.82 422.26,368.52 423.26,368.23 424.26,367.94 425.27,367.65 426.27,367.36 427.27,367.08 428.27,366.8" fill="none" stroke="#22c022" stroke-width="1.3" stroke-linejoin="round"/>
<circle cx="309.2" cy="426.22" r="1.1" fill="#22c022"/><circle cx="312.89" cy="423.27" r="1.1" fill="#22c022"/><circle cx="319.35" cy="418.35" r="1.1" fill="#22c022"/><circle cx="323.97" cy="415" r="1.1" fill="#22c022"/><circle cx="380.73" cy="383.37" r="1.1" fill="#22c022"/><circle cx="428.27" cy="366.8" r="1.1" fill="#22c022"/>
<path d="M456.9 344.5H467.3" stroke="#2424f0" stroke-width="1.1"/>
<circle cx="462.1" cy="344.5" r="1" fill="#2424f0"/>
<text x="472.7" y="347.6" class="lg">lactone 5%SBE&#946;CD</text>
<path d="M456.9 355.5H467.3" stroke="#ff8626" stroke-width="1.1"/>
<circle cx="462.1" cy="355.5" r="1" fill="#ff8626"/>
<text x="472.7" y="358.2" class="lg">acid 5%SBE&#946;CD</text>
<path d="M456.9 365.5H467.3" stroke="#d02ae2" stroke-width="1.1"/>
<circle cx="462.1" cy="365.5" r="1" fill="#d02ae2"/>
<text x="472.7" y="368.5" class="lg">lactone 10%SBE&#946;CD</text>
<path d="M456.9 376.5H467.3" stroke="#22c022" stroke-width="1.1"/>
<circle cx="462.1" cy="376.5" r="1" fill="#22c022"/>
<text x="472.7" y="379.1" class="lg">acid 10%SBE&#946;CD</text>
<path d="M39.9 502.1V593.3H178.22" fill="none" stroke="#262626" stroke-width="1.2"/>
<path d="M37.3 593.3H39.9M37.3 585.7H39.9M37.3 578.1H39.9M37.3 570.5H39.9M37.3 562.9H39.9M37.3 555.3H39.9M37.3 547.7H39.9M37.3 540.1H39.9M37.3 532.5H39.9M37.3 524.9H39.9M37.3 517.3H39.9M37.3 509.7H39.9M37.3 502.1H39.9M39.9 593.3V595.9M59.66 593.3V595.9M79.42 593.3V595.9M99.18 593.3V595.9M118.94 593.3V595.9M138.7 593.3V595.9M158.46 593.3V595.9M178.22 593.3V595.9" fill="none" stroke="#262626" stroke-width="1"/>
<text x="36.5" y="595.7" text-anchor="end" class="tk">0</text>
<text x="36.5" y="588.1" text-anchor="end" class="tk">1</text>
<text x="36.5" y="580.5" text-anchor="end" class="tk">2</text>
<text x="36.5" y="572.9" text-anchor="end" class="tk">3</text>
<text x="36.5" y="565.3" text-anchor="end" class="tk">4</text>
<text x="36.5" y="557.7" text-anchor="end" class="tk">5</text>
<text x="36.5" y="550.1" text-anchor="end" class="tk">6</text>
<text x="36.5" y="542.5" text-anchor="end" class="tk">7</text>
<text x="36.5" y="534.9" text-anchor="end" class="tk">8</text>
<text x="36.5" y="527.3" text-anchor="end" class="tk">9</text>
<text x="36.5" y="519.7" text-anchor="end" class="tk">10</text>
<text x="36.5" y="512.1" text-anchor="end" class="tk">11</text>
<text x="36.5" y="504.5" text-anchor="end" class="tk">12</text>
<text x="39.9" y="603.3" text-anchor="middle" class="tk">0</text>
<text x="59.66" y="603.3" text-anchor="middle" class="tk">100</text>
<text x="79.42" y="603.3" text-anchor="middle" class="tk">200</text>
<text x="99.18" y="603.3" text-anchor="middle" class="tk">300</text>
<text x="118.94" y="603.3" text-anchor="middle" class="tk">400</text>
<text x="138.7" y="603.3" text-anchor="middle" class="tk">500</text>
<text x="158.46" y="603.3" text-anchor="middle" class="tk">600</text>
<text x="178.22" y="603.3" text-anchor="middle" class="tk">700</text>
<text x="109.2" y="490.6" text-anchor="middle" class="ti">A</text>
<text x="109.3" y="613.4" text-anchor="middle" class="ax">time (h)</text>
<text transform="translate(24.7 547.6) rotate(-90)" text-anchor="middle" class="ax">Simvastatin (&#956;g/ml)</text>
<polyline points="39.9,521.82 41.02,525.21 42.14,528.43 43.26,531.49 44.38,534.41 45.5,537.18 46.62,539.81 47.73,542.32 48.85,544.7 49.97,546.96 51.09,549.11 52.21,551.16 53.33,553.11 54.45,554.96 55.57,556.72 56.69,558.39 57.81,559.98 58.93,561.49 60.05,562.93 61.16,564.3 62.28,565.6 63.4,566.83 64.52,568.01 65.64,569.13 66.76,570.19 67.88,571.2 69,572.16 70.12,573.07 71.24,573.94 72.36,574.77 73.48,575.55 74.59,576.3 75.71,577.01 76.83,577.68 77.95,578.32 79.07,578.93 80.19,579.51 81.31,580.07 82.43,580.59 83.55,581.09 84.67,581.56 85.79,582.01 86.91,582.44 88.02,582.85 89.14,583.24 90.26,583.61 91.38,583.96 92.5,584.29 93.62,584.61 94.74,584.91 95.86,585.19 96.98,585.47 98.1,585.72 99.22,585.97 100.34,586.2 101.45,586.43 102.57,586.64 103.69,586.84 104.81,587.03 105.93,587.21 107.05,587.39 108.17,587.55 109.29,587.71 110.41,587.85 111.53,588 112.65,588.13 113.77,588.26 114.89,588.38 116,588.49 117.12,588.6 118.24,588.71 119.36,588.81 120.48,588.9 121.6,588.99 122.72,589.08 123.84,589.16 124.96,589.24 126.08,589.31 127.2,589.38 128.32,589.45 129.43,589.51 130.55,589.57 131.67,589.63 132.79,589.68 133.91,589.73 135.03,589.78 136.15,589.83 137.27,589.87 138.39,589.91 139.51,589.95 140.63,589.99 141.75,590.03 142.86,590.06 143.98,590.09 145.1,590.13 146.22,590.16 147.34,590.18 148.46,590.21 149.58,590.24 150.7,590.26 151.82,590.28 152.94,590.3 154.06,590.33 155.18,590.35 156.29,590.36 157.41,590.38 158.53,590.4 159.65,590.41 160.77,590.43 161.89,590.44 163.01,590.46 164.13,590.47 165.25,590.48 166.37,590.5 167.49,590.51 168.61,590.52 169.72,590.53 170.84,590.54 171.96,590.55 173.08,590.56" fill="none" stroke="#2424f0" stroke-width="1.3" stroke-linejoin="round"/>
<circle cx="39.9" cy="521.82" r="1.1" fill="#2424f0"/><circle cx="49.38" cy="545.79" r="1.1" fill="#2424f0"/><circle cx="58.87" cy="561.42" r="1.1" fill="#2424f0"/><circle cx="68.35" cy="571.61" r="1.1" fill="#2424f0"/><circle cx="77.84" cy="578.26" r="1.1" fill="#2424f0"/><circle cx="92.07" cy="584.16" r="1.1" fill="#2424f0"/><circle cx="106.29" cy="587.27" r="1.1" fill="#2424f0"/><circle cx="139.49" cy="589.95" r="1.1" fill="#2424f0"/><circle cx="172.69" cy="590.55" r="1.1" fill="#2424f0"/>
<polyline points="39.9,586.19 41.02,582.34 42.14,578.68 43.26,575.19 44.38,571.87 45.5,568.71 46.62,565.7 47.73,562.84 48.85,560.12 49.97,557.53 51.09,555.06 52.21,552.71 53.33,550.48 54.45,548.35 55.57,546.33 56.69,544.4 57.81,542.57 58.93,540.82 60.05,539.16 61.16,537.58 62.28,536.08 63.4,534.64 64.52,533.28 65.64,531.98 66.76,530.75 67.88,529.57 69,528.46 70.12,527.39 71.24,526.38 72.36,525.41 73.48,524.5 74.59,523.62 75.71,522.79 76.83,522 77.95,521.25 79.07,520.53 80.19,519.85 81.31,519.2 82.43,518.58 83.55,517.99 84.67,517.43 85.79,516.9 86.91,516.4 88.02,515.91 89.14,515.45 90.26,515.02 91.38,514.6 92.5,514.2 93.62,513.83 94.74,513.47 95.86,513.13 96.98,512.8 98.1,512.49 99.22,512.2 100.34,511.92 101.45,511.65 102.57,511.4 103.69,511.16 104.81,510.93 105.93,510.71 107.05,510.5 108.17,510.3 109.29,510.12 110.41,509.94 111.53,509.76 112.65,509.6 113.77,509.45 114.89,509.3 116,509.16 117.12,509.03 118.24,508.9 119.36,508.78 120.48,508.66 121.6,508.55 122.72,508.45 123.84,508.35 124.96,508.26 126.08,508.17 127.2,508.08 128.32,508 129.43,507.92 130.55,507.85 131.67,507.78 132.79,507.71 133.91,507.65 135.03,507.59 136.15,507.53 137.27,507.48 138.39,507.42 139.51,507.37 140.63,507.33 141.75,507.28 142.86,507.24 143.98,507.2 145.1,507.16 146.22,507.12 147.34,507.09 148.46,507.05 149.58,507.02 150.7,506.99 151.82,506.96 152.94,506.94 154.06,506.91 155.18,506.89 156.29,506.86 157.41,506.84 158.53,506.82 159.65,506.8 160.77,506.78 161.89,506.76 163.01,506.74 164.13,506.73 165.25,506.71 166.37,506.69 167.49,506.68 168.61,506.67 169.72,506.65 170.84,506.64 171.96,506.63 173.08,506.62" fill="none" stroke="#ff8626" stroke-width="1.3" stroke-linejoin="round"/>
<circle cx="39.9" cy="586.19" r="1.1" fill="#ff8626"/><circle cx="49.38" cy="558.87" r="1.1" fill="#ff8626"/><circle cx="58.87" cy="540.91" r="1.1" fill="#ff8626"/><circle cx="68.35" cy="529.09" r="1.1" fill="#ff8626"/><circle cx="77.84" cy="521.32" r="1.1" fill="#ff8626"/><circle cx="92.07" cy="514.36" r="1.1" fill="#ff8626"/><circle cx="106.29" cy="510.64" r="1.1" fill="#ff8626"/><circle cx="139.49" cy="507.37" r="1.1" fill="#ff8626"/><circle cx="172.69" cy="506.62" r="1.1" fill="#ff8626"/>
<polyline points="39.9,527.31 41.02,529.99 42.14,532.57 43.26,535.04 44.38,537.4 45.5,539.67 46.62,541.85 47.73,543.93 48.85,545.93 49.97,547.85 51.09,549.69 52.21,551.45 53.33,553.14 54.45,554.76 55.57,556.31 56.69,557.8 57.81,559.22 58.93,560.59 60.05,561.9 61.16,563.16 62.28,564.37 63.4,565.52 64.52,566.63 65.64,567.69 66.76,568.71 67.88,569.68 69,570.62 70.12,571.52 71.24,572.38 72.36,573.2 73.48,573.99 74.59,574.75 75.71,575.47 76.83,576.17 77.95,576.84 79.07,577.48 80.19,578.09 81.31,578.68 82.43,579.24 83.55,579.78 84.67,580.3 85.79,580.8 86.91,581.28 88.02,581.73 89.14,582.17 90.26,582.59 91.38,582.99 92.5,583.38 93.62,583.75 94.74,584.1 95.86,584.44 96.98,584.77 98.1,585.08 99.22,585.38 100.34,585.67 101.45,585.94 102.57,586.21 103.69,586.46 104.81,586.7 105.93,586.93 107.05,587.16 108.17,587.37 109.29,587.57 110.41,587.77 111.53,587.96 112.65,588.14 113.77,588.31 114.89,588.48 116,588.64 117.12,588.79 118.24,588.94 119.36,589.08 120.48,589.21 121.6,589.34 122.72,589.46 123.84,589.58 124.96,589.69 126.08,589.8 127.2,589.91 128.32,590.01 129.43,590.1 130.55,590.2 131.67,590.28 132.79,590.37 133.91,590.45 135.03,590.53 136.15,590.6 137.27,590.67 138.39,590.74 139.51,590.81 140.63,590.87 141.75,590.93 142.86,590.99 143.98,591.04 145.1,591.1 146.22,591.15 147.34,591.2 148.46,591.24 149.58,591.29 150.7,591.33 151.82,591.37 152.94,591.41 154.06,591.45 155.18,591.48 156.29,591.52 157.41,591.55 158.53,591.59 159.65,591.62 160.77,591.65 161.89,591.67 163.01,591.7 164.13,591.73 165.25,591.75 166.37,591.77 167.49,591.8 168.61,591.82 169.72,591.84 170.84,591.86 171.96,591.88 173.08,591.9" fill="none" stroke="#d02ae2" stroke-width="1.3" stroke-linejoin="round"/>
<circle cx="39.9" cy="527.31" r="1.1" fill="#d02ae2"/><circle cx="49.38" cy="546.85" r="1.1" fill="#d02ae2"/><circle cx="58.87" cy="560.52" r="1.1" fill="#d02ae2"/><circle cx="68.35" cy="570.09" r="1.1" fill="#d02ae2"/><circle cx="77.84" cy="576.77" r="1.1" fill="#d02ae2"/><circle cx="92.07" cy="583.23" r="1.1" fill="#d02ae2"/><circle cx="106.29" cy="587.01" r="1.1" fill="#d02ae2"/><circle cx="139.49" cy="590.81" r="1.1" fill="#d02ae2"/><circle cx="172.69" cy="591.89" r="1.1" fill="#d02ae2"/>
<polyline points="39.9,587.93 41.02,584.21 42.14,580.68 43.26,577.31 44.38,574.11 45.5,571.06 46.62,568.16 47.73,565.41 48.85,562.78 49.97,560.28 51.09,557.91 52.21,555.65 53.33,553.5 54.45,551.45 55.57,549.5 56.69,547.65 57.81,545.89 58.93,544.21 60.05,542.61 61.16,541.1 62.28,539.65 63.4,538.28 64.52,536.97 65.64,535.72 66.76,534.54 67.88,533.41 69,532.34 70.12,531.32 71.24,530.35 72.36,529.42 73.48,528.55 74.59,527.71 75.71,526.91 76.83,526.16 77.95,525.44 79.07,524.75 80.19,524.1 81.31,523.48 82.43,522.89 83.55,522.33 84.67,521.79 85.79,521.28 86.91,520.8 88.02,520.34 89.14,519.9 90.26,519.48 91.38,519.09 92.5,518.71 93.62,518.35 94.74,518.01 95.86,517.68 96.98,517.37 98.1,517.08 99.22,516.8 100.34,516.53 101.45,516.28 102.57,516.04 103.69,515.81 104.81,515.59 105.93,515.38 107.05,515.19 108.17,515 109.29,514.82 110.41,514.65 111.53,514.49 112.65,514.33 113.77,514.19 114.89,514.05 116,513.91 117.12,513.79 118.24,513.67 119.36,513.55 120.48,513.44 121.6,513.34 122.72,513.24 123.84,513.15 124.96,513.06 126.08,512.97 127.2,512.89 128.32,512.82 129.43,512.74 130.55,512.67 131.67,512.61 132.79,512.54 133.91,512.48 135.03,512.43 136.15,512.37 137.27,512.32 138.39,512.27 139.51,512.23 140.63,512.18 141.75,512.14 142.86,512.1 143.98,512.06 145.1,512.02 146.22,511.99 147.34,511.96 148.46,511.92 149.58,511.89 150.7,511.87 151.82,511.84 152.94,511.81 154.06,511.79 155.18,511.77 156.29,511.74 157.41,511.72 158.53,511.7 159.65,511.68 160.77,511.66 161.89,511.65 163.01,511.63 164.13,511.62 165.25,511.6 166.37,511.59 167.49,511.57 168.61,511.56 169.72,511.55 170.84,511.54 171.96,511.53 173.08,511.51" fill="none" stroke="#22c022" stroke-width="1.3" stroke-linejoin="round"/>
<circle cx="39.9" cy="587.93" r="1.1" fill="#22c022"/><circle cx="49.38" cy="561.58" r="1.1" fill="#22c022"/><circle cx="58.87" cy="544.29" r="1.1" fill="#22c022"/><circle cx="68.35" cy="532.95" r="1.1" fill="#22c022"/><circle cx="77.84" cy="525.51" r="1.1" fill="#22c022"/><circle cx="92.07" cy="518.85" r="1.1" fill="#22c022"/><circle cx="106.29" cy="515.32" r="1.1" fill="#22c022"/><circle cx="139.49" cy="512.23" r="1.1" fill="#22c022"/><circle cx="172.69" cy="511.52" r="1.1" fill="#22c022"/>
<path d="M187.8 508.5H197.8" stroke="#2424f0" stroke-width="1.1"/>
<circle cx="192.8" cy="508.5" r="1" fill="#2424f0"/>
<text x="203.3" y="511" class="lg">lactone 5%SBE&#946;CD</text>
<path d="M187.8 519.5H197.8" stroke="#ff8626" stroke-width="1.1"/>
<circle cx="192.8" cy="519.5" r="1" fill="#ff8626"/>
<text x="203.3" y="522" class="lg">acid 5%SBE&#946;CD</text>
<path d="M187.8 529.5H197.8" stroke="#d02ae2" stroke-width="1.1"/>
<circle cx="192.8" cy="529.5" r="1" fill="#d02ae2"/>
<text x="203.3" y="532.4" class="lg">lactone 10%SBE&#946;CD</text>
<path d="M187.8 540.5H197.8" stroke="#22c022" stroke-width="1.1"/>
<circle cx="192.8" cy="540.5" r="1" fill="#22c022"/>
<text x="203.3" y="543.3" class="lg">acid 10%SBE&#946;CD</text>
<path d="M309.5 501.2V593.4H447.71" fill="none" stroke="#262626" stroke-width="1.2"/>
<path d="M306.9 588.5H309.5M306.9 578.8H309.5M306.9 569.1H309.5M306.9 559.4H309.5M306.9 549.7H309.5M306.9 540H309.5M306.9 530.3H309.5M306.9 520.6H309.5M306.9 510.9H309.5M306.9 501.2H309.5M309.5 593.4V596M332.54 593.4V596M355.57 593.4V596M378.61 593.4V596M401.64 593.4V596M424.68 593.4V596M447.71 593.4V596" fill="none" stroke="#262626" stroke-width="1"/>
<text x="306.1" y="590.9" text-anchor="end" class="tk">0</text>
<text x="306.1" y="581.2" text-anchor="end" class="tk">1</text>
<text x="306.1" y="571.5" text-anchor="end" class="tk">2</text>
<text x="306.1" y="561.8" text-anchor="end" class="tk">3</text>
<text x="306.1" y="552.1" text-anchor="end" class="tk">4</text>
<text x="306.1" y="542.4" text-anchor="end" class="tk">5</text>
<text x="306.1" y="532.7" text-anchor="end" class="tk">6</text>
<text x="306.1" y="523" text-anchor="end" class="tk">7</text>
<text x="306.1" y="513.3" text-anchor="end" class="tk">8</text>
<text x="306.1" y="503.6" text-anchor="end" class="tk">9</text>
<text x="309.5" y="603.4" text-anchor="middle" class="tk">0</text>
<text x="332.54" y="603.4" text-anchor="middle" class="tk">50</text>
<text x="355.57" y="603.4" text-anchor="middle" class="tk">100</text>
<text x="378.61" y="603.4" text-anchor="middle" class="tk">150</text>
<text x="401.64" y="603.4" text-anchor="middle" class="tk">200</text>
<text x="424.68" y="603.4" text-anchor="middle" class="tk">250</text>
<text x="447.71" y="603.4" text-anchor="middle" class="tk">300</text>
<text x="373.5" y="490.6" text-anchor="middle" class="ti">B</text>
<text x="378.7" y="613.4" text-anchor="middle" class="ax">time (h)</text>
<text transform="translate(295.8 547.6) rotate(-90)" text-anchor="middle" class="ax">Atorvastatin (&#956;g/ml)</text>
<polyline points="312.26,588.5 430.2,588.5" fill="none" stroke="#2424f0" stroke-width="1.0" stroke-linejoin="round"/>
<polyline points="312.26,510.61 430.2,507.41" fill="none" stroke="#ff8626" stroke-width="1.3" stroke-linejoin="round"/>
<polyline points="312.26,588.5 430.2,588.5" fill="none" stroke="#d02ae2" stroke-width="1.1" stroke-linejoin="round"/>
<polyline points="312.26,511.29 430.2,508.96" fill="none" stroke="#22c022" stroke-width="1.3" stroke-linejoin="round"/>
<circle cx="312.26" cy="588.5" r="1.1" fill="#d02ae2"/><circle cx="316.87" cy="588.5" r="1.1" fill="#d02ae2"/><circle cx="321.02" cy="588.5" r="1.1" fill="#d02ae2"/><circle cx="325.62" cy="588.5" r="1.1" fill="#d02ae2"/><circle cx="382.29" cy="588.5" r="1.1" fill="#d02ae2"/><circle cx="430.2" cy="588.5" r="1.1" fill="#d02ae2"/>
<circle cx="312.26" cy="588.5" r="0.9" fill="#2424f0"/><circle cx="316.87" cy="588.5" r="0.9" fill="#2424f0"/><circle cx="321.02" cy="588.5" r="0.9" fill="#2424f0"/><circle cx="325.62" cy="588.5" r="0.9" fill="#2424f0"/>
<circle cx="312.26" cy="510.61" r="1.1" fill="#ff8626"/><circle cx="316.87" cy="510.48" r="1.1" fill="#ff8626"/><circle cx="321.02" cy="510.37" r="1.1" fill="#ff8626"/><circle cx="325.62" cy="510.25" r="1.1" fill="#ff8626"/><circle cx="382.29" cy="508.71" r="1.1" fill="#ff8626"/><circle cx="430.2" cy="507.41" r="1.1" fill="#ff8626"/>
<circle cx="312.26" cy="511.29" r="1.1" fill="#22c022"/><circle cx="316.87" cy="511.2" r="1.1" fill="#22c022"/><circle cx="321.02" cy="511.12" r="1.1" fill="#22c022"/><circle cx="325.62" cy="511.02" r="1.1" fill="#22c022"/><circle cx="382.29" cy="509.91" r="1.1" fill="#22c022"/><circle cx="430.2" cy="508.96" r="1.1" fill="#22c022"/>
<path d="M457.3 508.5H467.6" stroke="#2424f0" stroke-width="1.1"/>
<circle cx="462.45" cy="508.5" r="1" fill="#2424f0"/>
<text x="472.7" y="511.2" class="lg">lactone 5%SBE&#946;CD</text>
<path d="M457.3 519.5H467.6" stroke="#ff8626" stroke-width="1.1"/>
<circle cx="462.45" cy="519.5" r="1" fill="#ff8626"/>
<text x="472.7" y="521.8" class="lg">acid 5%SBE&#946;CD</text>
<path d="M457.3 529.5H467.6" stroke="#d02ae2" stroke-width="1.1"/>
<circle cx="462.45" cy="529.5" r="1" fill="#d02ae2"/>
<text x="472.7" y="531.8" class="lg">lactone 10%SBE&#946;CD</text>
<path d="M457.3 539.5H467.6" stroke="#22c022" stroke-width="1.1"/>
<circle cx="462.45" cy="539.5" r="1" fill="#22c022"/>
<text x="472.7" y="542.2" class="lg">acid 10%SBE&#946;CD</text>
<text x="5.9" y="15" class="rm">I</text>
<text x="2.8" y="153.3" class="rm">II</text>
<text x="4.8" y="305.6" class="rm">III</text>
<text x="7.6" y="473.6" class="rm" letter-spacing="-2">IV</text>
</svg>
</body></html>
